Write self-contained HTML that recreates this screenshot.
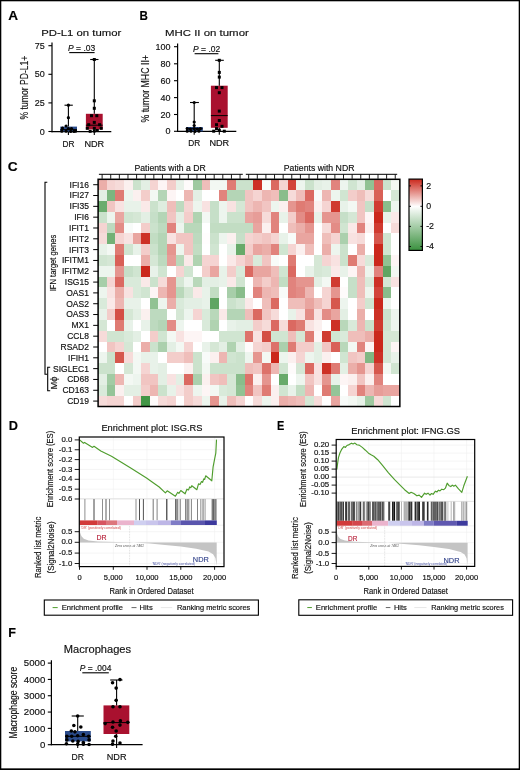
<!DOCTYPE html>
<html lang="en"><head><meta charset="utf-8"><title>Figure</title>
<style>html,body{margin:0;padding:0;background:#fff}svg{display:block}text{white-space:pre}</style></head>
<body>
<svg width="520" height="770" viewBox="0 0 520 770" font-family="'Liberation Sans', sans-serif" fill="#111">
<rect x="0" y="0" width="520" height="770" fill="#fff"/>
<text x="8.3" y="20.2" font-size="13" textLength="9.8" lengthAdjust="spacingAndGlyphs" font-weight="bold" fill="#000" stroke="#000" stroke-width="0.15">A</text>
<text x="139.6" y="19.7" font-size="13" textLength="8.4" lengthAdjust="spacingAndGlyphs" font-weight="bold" fill="#000" stroke="#000" stroke-width="0.15">B</text>
<text x="7.8" y="171.3" font-size="13" textLength="9.9" lengthAdjust="spacingAndGlyphs" font-weight="bold" fill="#000" stroke="#000" stroke-width="0.15">C</text>
<text x="8.8" y="430" font-size="13" textLength="9.2" lengthAdjust="spacingAndGlyphs" font-weight="bold" fill="#000" stroke="#000" stroke-width="0.15">D</text>
<text x="277" y="429.5" font-size="13" textLength="7.3" lengthAdjust="spacingAndGlyphs" font-weight="bold" fill="#000" stroke="#000" stroke-width="0.15">E</text>
<text x="8.3" y="636.7" font-size="13" textLength="7.7" lengthAdjust="spacingAndGlyphs" font-weight="bold" fill="#000" stroke="#000" stroke-width="0.15">F</text>
<text x="41.3" y="35.8" font-size="9.7" textLength="80" lengthAdjust="spacingAndGlyphs" stroke="#111" stroke-width="0.16">PD-L1 on tumor</text>
<text transform="translate(28.3,119.5) rotate(-90)" font-size="10.3" textLength="63.9" lengthAdjust="spacingAndGlyphs" stroke="#111" stroke-width="0.16">% tumor PD-L1+</text>
<line x1="52" y1="42.5" x2="52" y2="132.2" stroke="#000" stroke-width="1.2"/>
<line x1="51.4" y1="131.6" x2="111.3" y2="131.6" stroke="#000" stroke-width="1.2"/>
<line x1="48.4" y1="45.7" x2="52" y2="45.7" stroke="#000" stroke-width="1.1"/>
<text x="44.8" y="48.89" font-size="9" text-anchor="end" textLength="10.01" lengthAdjust="spacingAndGlyphs" stroke="#111" stroke-width="0.16">75</text>
<line x1="48.4" y1="74.3" x2="52" y2="74.3" stroke="#000" stroke-width="1.1"/>
<text x="44.8" y="77.49" font-size="9" text-anchor="end" textLength="10.01" lengthAdjust="spacingAndGlyphs" stroke="#111" stroke-width="0.16">50</text>
<line x1="48.4" y1="102.9" x2="52" y2="102.9" stroke="#000" stroke-width="1.1"/>
<text x="44.8" y="106.09" font-size="9" text-anchor="end" textLength="10.01" lengthAdjust="spacingAndGlyphs" stroke="#111" stroke-width="0.16">25</text>
<line x1="48.4" y1="131.5" x2="52" y2="131.5" stroke="#000" stroke-width="1.1"/>
<text x="44.8" y="134.69" font-size="9" text-anchor="end" textLength="5.01" lengthAdjust="spacingAndGlyphs" stroke="#111" stroke-width="0.16">0</text>
<line x1="68.4" y1="131.6" x2="68.4" y2="134.9" stroke="#000" stroke-width="1.1"/>
<rect x="60.3" y="126.6" width="16.7" height="5" fill="#2b4c8c"/>
<line x1="68.4" y1="105.2" x2="68.4" y2="126.6" stroke="#000" stroke-width="1.1"/>
<line x1="68.4" y1="131.6" x2="68.4" y2="131.6" stroke="#000" stroke-width="1.1"/>
<line x1="64.5" y1="105.2" x2="72.8" y2="105.2" stroke="#000" stroke-width="1.1"/>
<line x1="60.3" y1="129.6" x2="77" y2="129.6" stroke="#000" stroke-width="1"/>
<circle cx="68.4" cy="105.2" r="1.6" fill="#000"/>
<circle cx="68.4" cy="117.7" r="1.6" fill="#000"/>
<circle cx="66.1" cy="126" r="1.6" fill="#000"/>
<circle cx="62.5" cy="128.1" r="1.6" fill="#000"/>
<circle cx="68.4" cy="128.6" r="1.6" fill="#000"/>
<circle cx="71.5" cy="128.6" r="1.6" fill="#000"/>
<circle cx="61.8" cy="131.2" r="1.6" fill="#000"/>
<circle cx="66.1" cy="131.2" r="1.6" fill="#000"/>
<circle cx="70.7" cy="131.4" r="1.6" fill="#000"/>
<circle cx="73.9" cy="131.4" r="1.6" fill="#000"/>
<circle cx="75.6" cy="131.2" r="1.6" fill="#000"/>
<text x="68.4" y="146.6" font-size="9.2" text-anchor="middle" textLength="12" lengthAdjust="spacingAndGlyphs" stroke="#111" stroke-width="0.16">DR</text>
<line x1="94.3" y1="131.6" x2="94.3" y2="134.9" stroke="#000" stroke-width="1.1"/>
<rect x="85.9" y="113.8" width="16.8" height="15.6" fill="#a9112f"/>
<line x1="94.3" y1="59.5" x2="94.3" y2="113.8" stroke="#000" stroke-width="1.1"/>
<line x1="94.3" y1="129.4" x2="94.3" y2="131.6" stroke="#000" stroke-width="1.1"/>
<line x1="90.2" y1="59.5" x2="98.5" y2="59.5" stroke="#000" stroke-width="1.1"/>
<line x1="85.9" y1="125.2" x2="102.7" y2="125.2" stroke="#000" stroke-width="1"/>
<rect x="92.8" y="58" width="3" height="3" fill="#000"/>
<rect x="92.8" y="99.3" width="3" height="3" fill="#000"/>
<rect x="92.8" y="106.8" width="3" height="3" fill="#000"/>
<rect x="90" y="114.2" width="3" height="3" fill="#000"/>
<rect x="95.3" y="114.2" width="3" height="3" fill="#000"/>
<rect x="92.8" y="120.9" width="3" height="3" fill="#000"/>
<rect x="87.2" y="123.2" width="3" height="3" fill="#000"/>
<rect x="98.1" y="123.2" width="3" height="3" fill="#000"/>
<rect x="85.8" y="126.8" width="3" height="3" fill="#000"/>
<rect x="92.8" y="126.8" width="3" height="3" fill="#000"/>
<rect x="99.7" y="126.8" width="3" height="3" fill="#000"/>
<rect x="88.7" y="129.8" width="3" height="3" fill="#000"/>
<rect x="92.8" y="129.5" width="3" height="3" fill="#000"/>
<rect x="95.8" y="129" width="3" height="3" fill="#000"/>
<text x="94.3" y="146.6" font-size="9.2" text-anchor="middle" textLength="19.8" lengthAdjust="spacingAndGlyphs" stroke="#111" stroke-width="0.16">NDR</text>
<text x="68.1" y="50.7" font-size="8.5" stroke="#111" stroke-width="0.16" textLength="27.1" lengthAdjust="spacingAndGlyphs"><tspan font-style="italic">P</tspan> = .03</text>
<line x1="69.2" y1="52.6" x2="94.6" y2="52.6" stroke="#000" stroke-width="1.1"/>
<text x="165" y="36.2" font-size="9.7" textLength="83.8" lengthAdjust="spacingAndGlyphs" stroke="#111" stroke-width="0.16">MHC II on tumor</text>
<text transform="translate(148.7,122.6) rotate(-90)" font-size="10.3" textLength="67.6" lengthAdjust="spacingAndGlyphs" stroke="#111" stroke-width="0.16">% tumor MHC II+</text>
<line x1="177.6" y1="43.6" x2="177.6" y2="132" stroke="#000" stroke-width="1.2"/>
<line x1="177" y1="131.4" x2="236.3" y2="131.4" stroke="#000" stroke-width="1.2"/>
<line x1="174" y1="46.7" x2="177.6" y2="46.7" stroke="#000" stroke-width="1.1"/>
<text x="170.5" y="49.89" font-size="9" text-anchor="end" textLength="15.02" lengthAdjust="spacingAndGlyphs" stroke="#111" stroke-width="0.16">100</text>
<line x1="174" y1="63.8" x2="177.6" y2="63.8" stroke="#000" stroke-width="1.1"/>
<text x="170.5" y="66.99" font-size="9" text-anchor="end" textLength="10.01" lengthAdjust="spacingAndGlyphs" stroke="#111" stroke-width="0.16">80</text>
<line x1="174" y1="80.7" x2="177.6" y2="80.7" stroke="#000" stroke-width="1.1"/>
<text x="170.5" y="83.89" font-size="9" text-anchor="end" textLength="10.01" lengthAdjust="spacingAndGlyphs" stroke="#111" stroke-width="0.16">60</text>
<line x1="174" y1="97.6" x2="177.6" y2="97.6" stroke="#000" stroke-width="1.1"/>
<text x="170.5" y="100.79" font-size="9" text-anchor="end" textLength="10.01" lengthAdjust="spacingAndGlyphs" stroke="#111" stroke-width="0.16">40</text>
<line x1="174" y1="114.5" x2="177.6" y2="114.5" stroke="#000" stroke-width="1.1"/>
<text x="170.5" y="117.69" font-size="9" text-anchor="end" textLength="10.01" lengthAdjust="spacingAndGlyphs" stroke="#111" stroke-width="0.16">20</text>
<line x1="174" y1="131.3" x2="177.6" y2="131.3" stroke="#000" stroke-width="1.1"/>
<text x="170.5" y="134.49" font-size="9" text-anchor="end" textLength="5.01" lengthAdjust="spacingAndGlyphs" stroke="#111" stroke-width="0.16">0</text>
<line x1="194.2" y1="131.4" x2="194.2" y2="134.7" stroke="#000" stroke-width="1.1"/>
<rect x="186.1" y="127" width="16.7" height="4.4" fill="#2b4c8c"/>
<line x1="194.2" y1="102.5" x2="194.2" y2="127" stroke="#000" stroke-width="1.1"/>
<line x1="194.2" y1="131.4" x2="194.2" y2="131.4" stroke="#000" stroke-width="1.1"/>
<line x1="190" y1="102.5" x2="198.9" y2="102.5" stroke="#000" stroke-width="1.1"/>
<line x1="186.1" y1="128.8" x2="202.8" y2="128.8" stroke="#000" stroke-width="1"/>
<circle cx="194.2" cy="102.5" r="1.6" fill="#000"/>
<circle cx="194.2" cy="122" r="1.6" fill="#000"/>
<circle cx="194.2" cy="125.5" r="1.6" fill="#000"/>
<circle cx="187.2" cy="128.6" r="1.6" fill="#000"/>
<circle cx="190.3" cy="129" r="1.6" fill="#000"/>
<circle cx="194.2" cy="128.6" r="1.6" fill="#000"/>
<circle cx="197.3" cy="129" r="1.6" fill="#000"/>
<circle cx="200.4" cy="128.6" r="1.6" fill="#000"/>
<circle cx="187.2" cy="131.2" r="1.6" fill="#000"/>
<circle cx="191" cy="131.2" r="1.6" fill="#000"/>
<circle cx="195" cy="131.4" r="1.6" fill="#000"/>
<circle cx="198.9" cy="131.2" r="1.6" fill="#000"/>
<text x="194.2" y="146.4" font-size="9.2" text-anchor="middle" textLength="12" lengthAdjust="spacingAndGlyphs" stroke="#111" stroke-width="0.16">DR</text>
<line x1="219.3" y1="131.4" x2="219.3" y2="134.7" stroke="#000" stroke-width="1.1"/>
<rect x="210.9" y="85.7" width="16.8" height="42.1" fill="#a9112f"/>
<line x1="219.3" y1="60.3" x2="219.3" y2="85.7" stroke="#000" stroke-width="1.1"/>
<line x1="219.3" y1="127.8" x2="219.3" y2="131.4" stroke="#000" stroke-width="1.1"/>
<line x1="215.2" y1="60.3" x2="223.8" y2="60.3" stroke="#000" stroke-width="1.1"/>
<line x1="210.9" y1="115.6" x2="227.7" y2="115.6" stroke="#000" stroke-width="1"/>
<rect x="217.8" y="58.8" width="3" height="3" fill="#000"/>
<rect x="217.8" y="70.9" width="3" height="3" fill="#000"/>
<rect x="217.8" y="75.6" width="3" height="3" fill="#000"/>
<rect x="215" y="86.1" width="3" height="3" fill="#000"/>
<rect x="220.5" y="86.1" width="3" height="3" fill="#000"/>
<rect x="217.8" y="91.2" width="3" height="3" fill="#000"/>
<rect x="217.8" y="109.6" width="3" height="3" fill="#000"/>
<rect x="217.8" y="119" width="3" height="3" fill="#000"/>
<rect x="215" y="123.2" width="3" height="3" fill="#000"/>
<rect x="220.5" y="124.8" width="3" height="3" fill="#000"/>
<rect x="215" y="127.1" width="3" height="3" fill="#000"/>
<rect x="212.2" y="129.7" width="3" height="3" fill="#000"/>
<rect x="217.8" y="128.7" width="3" height="3" fill="#000"/>
<rect x="222.8" y="129.7" width="3" height="3" fill="#000"/>
<text x="219.3" y="146.4" font-size="9.2" text-anchor="middle" textLength="19.8" lengthAdjust="spacingAndGlyphs" stroke="#111" stroke-width="0.16">NDR</text>
<text x="193.1" y="51.7" font-size="8.5" stroke="#111" stroke-width="0.16" textLength="27.1" lengthAdjust="spacingAndGlyphs"><tspan font-style="italic">P</tspan> = .02</text>
<line x1="194.6" y1="53.7" x2="218.4" y2="53.7" stroke="#000" stroke-width="1.1"/>
<g shape-rendering="crispEdges">
<rect x="98.1" y="179.3" width="8.92" height="11.12" fill="#ebaea9"/>
<rect x="106.72" y="179.3" width="8.92" height="11.12" fill="#f5d4d2"/>
<rect x="115.34" y="179.3" width="8.92" height="11.12" fill="#f6dbd9"/>
<rect x="123.96" y="179.3" width="8.92" height="11.12" fill="#fbf0ef"/>
<rect x="132.59" y="179.3" width="8.92" height="11.12" fill="#cbe2cc"/>
<rect x="141.21" y="179.3" width="8.92" height="11.12" fill="#e3efe4"/>
<rect x="149.83" y="179.3" width="8.92" height="11.12" fill="#f5d4d2"/>
<rect x="158.45" y="179.3" width="8.92" height="11.12" fill="#fdf5f5"/>
<rect x="167.07" y="179.3" width="8.92" height="11.12" fill="#f3cdca"/>
<rect x="175.69" y="179.3" width="8.92" height="11.12" fill="#e8f2e9"/>
<rect x="184.31" y="179.3" width="8.92" height="11.12" fill="#fefbfb"/>
<rect x="192.94" y="179.3" width="8.92" height="11.12" fill="#9ec9a0"/>
<rect x="201.56" y="179.3" width="8.92" height="11.12" fill="#efbeba"/>
<rect x="210.18" y="179.3" width="8.92" height="11.12" fill="#f3f8f3"/>
<rect x="218.8" y="179.3" width="8.92" height="11.12" fill="#f3f8f3"/>
<rect x="227.42" y="179.3" width="8.92" height="11.12" fill="#df7b73"/>
<rect x="236.04" y="179.3" width="8.92" height="11.12" fill="#cbe2cc"/>
<rect x="244.66" y="179.3" width="8.92" height="11.12" fill="#cbe2cc"/>
<rect x="253.29" y="179.3" width="8.92" height="11.12" fill="#cd3126"/>
<rect x="261.91" y="179.3" width="8.92" height="11.12" fill="#f8fbf9"/>
<rect x="270.53" y="179.3" width="8.92" height="11.12" fill="#db6961"/>
<rect x="279.15" y="179.3" width="8.92" height="11.12" fill="#f5d4d2"/>
<rect x="287.77" y="179.3" width="8.92" height="11.12" fill="#d2443a"/>
<rect x="296.39" y="179.3" width="8.92" height="11.12" fill="#edf5ee"/>
<rect x="305.01" y="179.3" width="8.92" height="11.12" fill="#cbe2cc"/>
<rect x="313.64" y="179.3" width="8.92" height="11.12" fill="#e3efe4"/>
<rect x="322.26" y="179.3" width="8.92" height="11.12" fill="#e8f2e9"/>
<rect x="330.88" y="179.3" width="8.92" height="11.12" fill="#e1837d"/>
<rect x="339.5" y="179.3" width="8.92" height="11.12" fill="#edf5ee"/>
<rect x="348.12" y="179.3" width="8.92" height="11.12" fill="#d0e5d1"/>
<rect x="356.74" y="179.3" width="8.92" height="11.12" fill="#e3efe4"/>
<rect x="365.36" y="179.3" width="8.92" height="11.12" fill="#91c293"/>
<rect x="373.99" y="179.3" width="8.92" height="11.12" fill="#db6961"/>
<rect x="382.61" y="179.3" width="8.92" height="11.12" fill="#cbe2cc"/>
<rect x="391.23" y="179.3" width="8.92" height="11.12" fill="#f3f8f3"/>
<rect x="98.1" y="190.12" width="8.92" height="11.12" fill="#e3efe4"/>
<rect x="106.72" y="190.12" width="8.92" height="11.12" fill="#7cb67f"/>
<rect x="115.34" y="190.12" width="8.92" height="11.12" fill="#df7b73"/>
<rect x="123.96" y="190.12" width="8.92" height="11.12" fill="#edf5ee"/>
<rect x="132.59" y="190.12" width="8.92" height="11.12" fill="#fbf0ef"/>
<rect x="141.21" y="190.12" width="8.92" height="11.12" fill="#f3cdca"/>
<rect x="149.83" y="190.12" width="8.92" height="11.12" fill="#f3f8f3"/>
<rect x="158.45" y="190.12" width="8.92" height="11.12" fill="#b4d5b6"/>
<rect x="167.07" y="190.12" width="8.92" height="11.12" fill="#fdf5f5"/>
<rect x="175.69" y="190.12" width="8.92" height="11.12" fill="#ffffff"/>
<rect x="184.31" y="190.12" width="8.92" height="11.12" fill="#edb6b2"/>
<rect x="192.94" y="190.12" width="8.92" height="11.12" fill="#e3efe4"/>
<rect x="201.56" y="190.12" width="8.92" height="11.12" fill="#ffffff"/>
<rect x="210.18" y="190.12" width="8.92" height="11.12" fill="#ffffff"/>
<rect x="218.8" y="190.12" width="8.92" height="11.12" fill="#e1837d"/>
<rect x="227.42" y="190.12" width="8.92" height="11.12" fill="#b4d5b6"/>
<rect x="236.04" y="190.12" width="8.92" height="11.12" fill="#b4d5b6"/>
<rect x="244.66" y="190.12" width="8.92" height="11.12" fill="#f1c5c2"/>
<rect x="253.29" y="190.12" width="8.92" height="11.12" fill="#f5d4d2"/>
<rect x="261.91" y="190.12" width="8.92" height="11.12" fill="#edb6b2"/>
<rect x="270.53" y="190.12" width="8.92" height="11.12" fill="#efbeba"/>
<rect x="279.15" y="190.12" width="8.92" height="11.12" fill="#89bd8b"/>
<rect x="287.77" y="190.12" width="8.92" height="11.12" fill="#f6dbd9"/>
<rect x="296.39" y="190.12" width="8.92" height="11.12" fill="#efbeba"/>
<rect x="305.01" y="190.12" width="8.92" height="11.12" fill="#db6961"/>
<rect x="313.64" y="190.12" width="8.92" height="11.12" fill="#f8fbf9"/>
<rect x="322.26" y="190.12" width="8.92" height="11.12" fill="#edb6b2"/>
<rect x="330.88" y="190.12" width="8.92" height="11.12" fill="#edf5ee"/>
<rect x="339.5" y="190.12" width="8.92" height="11.12" fill="#d0e5d1"/>
<rect x="348.12" y="190.12" width="8.92" height="11.12" fill="#f3cdca"/>
<rect x="356.74" y="190.12" width="8.92" height="11.12" fill="#efbeba"/>
<rect x="365.36" y="190.12" width="8.92" height="11.12" fill="#f6dbd9"/>
<rect x="373.99" y="190.12" width="8.92" height="11.12" fill="#d96057"/>
<rect x="382.61" y="190.12" width="8.92" height="11.12" fill="#ffffff"/>
<rect x="391.23" y="190.12" width="8.92" height="11.12" fill="#d5e7d5"/>
<rect x="98.1" y="200.94" width="8.92" height="11.12" fill="#6bac6e"/>
<rect x="106.72" y="200.94" width="8.92" height="11.12" fill="#f1c5c2"/>
<rect x="115.34" y="200.94" width="8.92" height="11.12" fill="#f8e2e1"/>
<rect x="123.96" y="200.94" width="8.92" height="11.12" fill="#e8f2e9"/>
<rect x="132.59" y="200.94" width="8.92" height="11.12" fill="#e8f2e9"/>
<rect x="141.21" y="200.94" width="8.92" height="11.12" fill="#fae9e8"/>
<rect x="149.83" y="200.94" width="8.92" height="11.12" fill="#cbe2cc"/>
<rect x="158.45" y="200.94" width="8.92" height="11.12" fill="#deeddf"/>
<rect x="167.07" y="200.94" width="8.92" height="11.12" fill="#efbeba"/>
<rect x="175.69" y="200.94" width="8.92" height="11.12" fill="#bddabf"/>
<rect x="184.31" y="200.94" width="8.92" height="11.12" fill="#f5d4d2"/>
<rect x="192.94" y="200.94" width="8.92" height="11.12" fill="#edf5ee"/>
<rect x="201.56" y="200.94" width="8.92" height="11.12" fill="#f8e2e1"/>
<rect x="210.18" y="200.94" width="8.92" height="11.12" fill="#c6dfc8"/>
<rect x="218.8" y="200.94" width="8.92" height="11.12" fill="#edf5ee"/>
<rect x="227.42" y="200.94" width="8.92" height="11.12" fill="#f8e2e1"/>
<rect x="236.04" y="200.94" width="8.92" height="11.12" fill="#d5e7d5"/>
<rect x="244.66" y="200.94" width="8.92" height="11.12" fill="#f1c5c2"/>
<rect x="253.29" y="200.94" width="8.92" height="11.12" fill="#edb6b2"/>
<rect x="261.91" y="200.94" width="8.92" height="11.12" fill="#f1c5c2"/>
<rect x="270.53" y="200.94" width="8.92" height="11.12" fill="#edf5ee"/>
<rect x="279.15" y="200.94" width="8.92" height="11.12" fill="#fbf0ef"/>
<rect x="287.77" y="200.94" width="8.92" height="11.12" fill="#e5958f"/>
<rect x="296.39" y="200.94" width="8.92" height="11.12" fill="#df7b73"/>
<rect x="305.01" y="200.94" width="8.92" height="11.12" fill="#e1837d"/>
<rect x="313.64" y="200.94" width="8.92" height="11.12" fill="#fbf0ef"/>
<rect x="322.26" y="200.94" width="8.92" height="11.12" fill="#f5d4d2"/>
<rect x="330.88" y="200.94" width="8.92" height="11.12" fill="#d03b30"/>
<rect x="339.5" y="200.94" width="8.92" height="11.12" fill="#e8f2e9"/>
<rect x="348.12" y="200.94" width="8.92" height="11.12" fill="#f3f8f3"/>
<rect x="356.74" y="200.94" width="8.92" height="11.12" fill="#f1c5c2"/>
<rect x="365.36" y="200.94" width="8.92" height="11.12" fill="#c6dfc8"/>
<rect x="373.99" y="200.94" width="8.92" height="11.12" fill="#d03b30"/>
<rect x="382.61" y="200.94" width="8.92" height="11.12" fill="#89bd8b"/>
<rect x="391.23" y="200.94" width="8.92" height="11.12" fill="#edf5ee"/>
<rect x="98.1" y="211.76" width="8.92" height="11.12" fill="#cbe2cc"/>
<rect x="106.72" y="211.76" width="8.92" height="11.12" fill="#edf5ee"/>
<rect x="115.34" y="211.76" width="8.92" height="11.12" fill="#e9a5a0"/>
<rect x="123.96" y="211.76" width="8.92" height="11.12" fill="#d0e5d1"/>
<rect x="132.59" y="211.76" width="8.92" height="11.12" fill="#d5e7d5"/>
<rect x="141.21" y="211.76" width="8.92" height="11.12" fill="#e3efe4"/>
<rect x="149.83" y="211.76" width="8.92" height="11.12" fill="#c6dfc8"/>
<rect x="158.45" y="211.76" width="8.92" height="11.12" fill="#b4d5b6"/>
<rect x="167.07" y="211.76" width="8.92" height="11.12" fill="#f1c5c2"/>
<rect x="175.69" y="211.76" width="8.92" height="11.12" fill="#e3efe4"/>
<rect x="184.31" y="211.76" width="8.92" height="11.12" fill="#f3cdca"/>
<rect x="192.94" y="211.76" width="8.92" height="11.12" fill="#b0d3b1"/>
<rect x="201.56" y="211.76" width="8.92" height="11.12" fill="#f3f8f3"/>
<rect x="210.18" y="211.76" width="8.92" height="11.12" fill="#c6dfc8"/>
<rect x="218.8" y="211.76" width="8.92" height="11.12" fill="#edf5ee"/>
<rect x="227.42" y="211.76" width="8.92" height="11.12" fill="#cbe2cc"/>
<rect x="236.04" y="211.76" width="8.92" height="11.12" fill="#cbe2cc"/>
<rect x="244.66" y="211.76" width="8.92" height="11.12" fill="#e9a5a0"/>
<rect x="253.29" y="211.76" width="8.92" height="11.12" fill="#e79d98"/>
<rect x="261.91" y="211.76" width="8.92" height="11.12" fill="#f6dbd9"/>
<rect x="270.53" y="211.76" width="8.92" height="11.12" fill="#e1837d"/>
<rect x="279.15" y="211.76" width="8.92" height="11.12" fill="#e8f2e9"/>
<rect x="287.77" y="211.76" width="8.92" height="11.12" fill="#f3cdca"/>
<rect x="296.39" y="211.76" width="8.92" height="11.12" fill="#e38c86"/>
<rect x="305.01" y="211.76" width="8.92" height="11.12" fill="#db6961"/>
<rect x="313.64" y="211.76" width="8.92" height="11.12" fill="#e8f2e9"/>
<rect x="322.26" y="211.76" width="8.92" height="11.12" fill="#e5958f"/>
<rect x="330.88" y="211.76" width="8.92" height="11.12" fill="#e5958f"/>
<rect x="339.5" y="211.76" width="8.92" height="11.12" fill="#c6dfc8"/>
<rect x="348.12" y="211.76" width="8.92" height="11.12" fill="#d5e7d5"/>
<rect x="356.74" y="211.76" width="8.92" height="11.12" fill="#f1c5c2"/>
<rect x="365.36" y="211.76" width="8.92" height="11.12" fill="#fdf5f5"/>
<rect x="373.99" y="211.76" width="8.92" height="11.12" fill="#cb281c"/>
<rect x="382.61" y="211.76" width="8.92" height="11.12" fill="#e8f2e9"/>
<rect x="391.23" y="211.76" width="8.92" height="11.12" fill="#fae9e8"/>
<rect x="98.1" y="222.58" width="8.92" height="11.12" fill="#f5d4d2"/>
<rect x="106.72" y="222.58" width="8.92" height="11.12" fill="#bddabf"/>
<rect x="115.34" y="222.58" width="8.92" height="11.12" fill="#e38c86"/>
<rect x="123.96" y="222.58" width="8.92" height="11.12" fill="#f8fbf9"/>
<rect x="132.59" y="222.58" width="8.92" height="11.12" fill="#ffffff"/>
<rect x="141.21" y="222.58" width="8.92" height="11.12" fill="#f3cdca"/>
<rect x="149.83" y="222.58" width="8.92" height="11.12" fill="#cbe2cc"/>
<rect x="158.45" y="222.58" width="8.92" height="11.12" fill="#bddabf"/>
<rect x="167.07" y="222.58" width="8.92" height="11.12" fill="#e1837d"/>
<rect x="175.69" y="222.58" width="8.92" height="11.12" fill="#edf5ee"/>
<rect x="184.31" y="222.58" width="8.92" height="11.12" fill="#b9d8ba"/>
<rect x="192.94" y="222.58" width="8.92" height="11.12" fill="#b9d8ba"/>
<rect x="201.56" y="222.58" width="8.92" height="11.12" fill="#ffffff"/>
<rect x="210.18" y="222.58" width="8.92" height="11.12" fill="#c2ddc3"/>
<rect x="218.8" y="222.58" width="8.92" height="11.12" fill="#c2ddc3"/>
<rect x="227.42" y="222.58" width="8.92" height="11.12" fill="#c2ddc3"/>
<rect x="236.04" y="222.58" width="8.92" height="11.12" fill="#c2ddc3"/>
<rect x="244.66" y="222.58" width="8.92" height="11.12" fill="#c2ddc3"/>
<rect x="253.29" y="222.58" width="8.92" height="11.12" fill="#e9a5a0"/>
<rect x="261.91" y="222.58" width="8.92" height="11.12" fill="#fbf0ef"/>
<rect x="270.53" y="222.58" width="8.92" height="11.12" fill="#e1837d"/>
<rect x="279.15" y="222.58" width="8.92" height="11.12" fill="#ffffff"/>
<rect x="287.77" y="222.58" width="8.92" height="11.12" fill="#efbeba"/>
<rect x="296.39" y="222.58" width="8.92" height="11.12" fill="#ebaea9"/>
<rect x="305.01" y="222.58" width="8.92" height="11.12" fill="#e5958f"/>
<rect x="313.64" y="222.58" width="8.92" height="11.12" fill="#ffffff"/>
<rect x="322.26" y="222.58" width="8.92" height="11.12" fill="#f6dbd9"/>
<rect x="330.88" y="222.58" width="8.92" height="11.12" fill="#e38c86"/>
<rect x="339.5" y="222.58" width="8.92" height="11.12" fill="#d0e5d1"/>
<rect x="348.12" y="222.58" width="8.92" height="11.12" fill="#fae9e8"/>
<rect x="356.74" y="222.58" width="8.92" height="11.12" fill="#e1837d"/>
<rect x="365.36" y="222.58" width="8.92" height="11.12" fill="#fbf0ef"/>
<rect x="373.99" y="222.58" width="8.92" height="11.12" fill="#d03b30"/>
<rect x="382.61" y="222.58" width="8.92" height="11.12" fill="#ffffff"/>
<rect x="391.23" y="222.58" width="8.92" height="11.12" fill="#f6dbd9"/>
<rect x="98.1" y="233.4" width="8.92" height="11.12" fill="#f6dbd9"/>
<rect x="106.72" y="233.4" width="8.92" height="11.12" fill="#73b176"/>
<rect x="115.34" y="233.4" width="8.92" height="11.12" fill="#f5d4d2"/>
<rect x="123.96" y="233.4" width="8.92" height="11.12" fill="#f8e2e1"/>
<rect x="132.59" y="233.4" width="8.92" height="11.12" fill="#e9a5a0"/>
<rect x="141.21" y="233.4" width="8.92" height="11.12" fill="#cd3126"/>
<rect x="149.83" y="233.4" width="8.92" height="11.12" fill="#c2ddc3"/>
<rect x="158.45" y="233.4" width="8.92" height="11.12" fill="#b4d5b6"/>
<rect x="167.07" y="233.4" width="8.92" height="11.12" fill="#f8e2e1"/>
<rect x="175.69" y="233.4" width="8.92" height="11.12" fill="#f1c5c2"/>
<rect x="184.31" y="233.4" width="8.92" height="11.12" fill="#f1c5c2"/>
<rect x="192.94" y="233.4" width="8.92" height="11.12" fill="#bddabf"/>
<rect x="201.56" y="233.4" width="8.92" height="11.12" fill="#fffdfd"/>
<rect x="210.18" y="233.4" width="8.92" height="11.12" fill="#cbe2cc"/>
<rect x="218.8" y="233.4" width="8.92" height="11.12" fill="#edf5ee"/>
<rect x="227.42" y="233.4" width="8.92" height="11.12" fill="#fbf0ef"/>
<rect x="236.04" y="233.4" width="8.92" height="11.12" fill="#c6dfc8"/>
<rect x="244.66" y="233.4" width="8.92" height="11.12" fill="#f5d4d2"/>
<rect x="253.29" y="233.4" width="8.92" height="11.12" fill="#f3cdca"/>
<rect x="261.91" y="233.4" width="8.92" height="11.12" fill="#f1c5c2"/>
<rect x="270.53" y="233.4" width="8.92" height="11.12" fill="#f5d4d2"/>
<rect x="279.15" y="233.4" width="8.92" height="11.12" fill="#e8f2e9"/>
<rect x="287.77" y="233.4" width="8.92" height="11.12" fill="#f8fbf9"/>
<rect x="296.39" y="233.4" width="8.92" height="11.12" fill="#e9a5a0"/>
<rect x="305.01" y="233.4" width="8.92" height="11.12" fill="#e9a5a0"/>
<rect x="313.64" y="233.4" width="8.92" height="11.12" fill="#ffffff"/>
<rect x="322.26" y="233.4" width="8.92" height="11.12" fill="#efbeba"/>
<rect x="330.88" y="233.4" width="8.92" height="11.12" fill="#f5d4d2"/>
<rect x="339.5" y="233.4" width="8.92" height="11.12" fill="#abd0ad"/>
<rect x="348.12" y="233.4" width="8.92" height="11.12" fill="#f8e2e1"/>
<rect x="356.74" y="233.4" width="8.92" height="11.12" fill="#f6dbd9"/>
<rect x="365.36" y="233.4" width="8.92" height="11.12" fill="#ffffff"/>
<rect x="373.99" y="233.4" width="8.92" height="11.12" fill="#d6574d"/>
<rect x="382.61" y="233.4" width="8.92" height="11.12" fill="#d0e5d1"/>
<rect x="391.23" y="233.4" width="8.92" height="11.12" fill="#ffffff"/>
<rect x="98.1" y="244.21" width="8.92" height="11.12" fill="#e8f2e9"/>
<rect x="106.72" y="244.21" width="8.92" height="11.12" fill="#f3f8f3"/>
<rect x="115.34" y="244.21" width="8.92" height="11.12" fill="#df7b73"/>
<rect x="123.96" y="244.21" width="8.92" height="11.12" fill="#d0e5d1"/>
<rect x="132.59" y="244.21" width="8.92" height="11.12" fill="#e8f2e9"/>
<rect x="141.21" y="244.21" width="8.92" height="11.12" fill="#f3cdca"/>
<rect x="149.83" y="244.21" width="8.92" height="11.12" fill="#cbe2cc"/>
<rect x="158.45" y="244.21" width="8.92" height="11.12" fill="#b4d5b6"/>
<rect x="167.07" y="244.21" width="8.92" height="11.12" fill="#e5958f"/>
<rect x="175.69" y="244.21" width="8.92" height="11.12" fill="#edf5ee"/>
<rect x="184.31" y="244.21" width="8.92" height="11.12" fill="#f1c5c2"/>
<rect x="192.94" y="244.21" width="8.92" height="11.12" fill="#c2ddc3"/>
<rect x="201.56" y="244.21" width="8.92" height="11.12" fill="#ffffff"/>
<rect x="210.18" y="244.21" width="8.92" height="11.12" fill="#d0e5d1"/>
<rect x="218.8" y="244.21" width="8.92" height="11.12" fill="#ffffff"/>
<rect x="227.42" y="244.21" width="8.92" height="11.12" fill="#e8f2e9"/>
<rect x="236.04" y="244.21" width="8.92" height="11.12" fill="#67aa6a"/>
<rect x="244.66" y="244.21" width="8.92" height="11.12" fill="#f3cdca"/>
<rect x="253.29" y="244.21" width="8.92" height="11.12" fill="#e9a5a0"/>
<rect x="261.91" y="244.21" width="8.92" height="11.12" fill="#ebaea9"/>
<rect x="270.53" y="244.21" width="8.92" height="11.12" fill="#e1837d"/>
<rect x="279.15" y="244.21" width="8.92" height="11.12" fill="#d0e5d1"/>
<rect x="287.77" y="244.21" width="8.92" height="11.12" fill="#f5d4d2"/>
<rect x="296.39" y="244.21" width="8.92" height="11.12" fill="#fbf0ef"/>
<rect x="305.01" y="244.21" width="8.92" height="11.12" fill="#efbeba"/>
<rect x="313.64" y="244.21" width="8.92" height="11.12" fill="#ffffff"/>
<rect x="322.26" y="244.21" width="8.92" height="11.12" fill="#ebaea9"/>
<rect x="330.88" y="244.21" width="8.92" height="11.12" fill="#edf5ee"/>
<rect x="339.5" y="244.21" width="8.92" height="11.12" fill="#cbe2cc"/>
<rect x="348.12" y="244.21" width="8.92" height="11.12" fill="#ffffff"/>
<rect x="356.74" y="244.21" width="8.92" height="11.12" fill="#ebaea9"/>
<rect x="365.36" y="244.21" width="8.92" height="11.12" fill="#ffffff"/>
<rect x="373.99" y="244.21" width="8.92" height="11.12" fill="#cb281c"/>
<rect x="382.61" y="244.21" width="8.92" height="11.12" fill="#d0e5d1"/>
<rect x="391.23" y="244.21" width="8.92" height="11.12" fill="#ffffff"/>
<rect x="98.1" y="255.03" width="8.92" height="11.12" fill="#d0e5d1"/>
<rect x="106.72" y="255.03" width="8.92" height="11.12" fill="#d5e7d5"/>
<rect x="115.34" y="255.03" width="8.92" height="11.12" fill="#d96057"/>
<rect x="123.96" y="255.03" width="8.92" height="11.12" fill="#ffffff"/>
<rect x="132.59" y="255.03" width="8.92" height="11.12" fill="#ffffff"/>
<rect x="141.21" y="255.03" width="8.92" height="11.12" fill="#ebaea9"/>
<rect x="149.83" y="255.03" width="8.92" height="11.12" fill="#d5e7d5"/>
<rect x="158.45" y="255.03" width="8.92" height="11.12" fill="#bddabf"/>
<rect x="167.07" y="255.03" width="8.92" height="11.12" fill="#e79d98"/>
<rect x="175.69" y="255.03" width="8.92" height="11.12" fill="#b9d8ba"/>
<rect x="184.31" y="255.03" width="8.92" height="11.12" fill="#fae9e8"/>
<rect x="192.94" y="255.03" width="8.92" height="11.12" fill="#b0d3b1"/>
<rect x="201.56" y="255.03" width="8.92" height="11.12" fill="#f5d4d2"/>
<rect x="210.18" y="255.03" width="8.92" height="11.12" fill="#f5d4d2"/>
<rect x="218.8" y="255.03" width="8.92" height="11.12" fill="#ffffff"/>
<rect x="227.42" y="255.03" width="8.92" height="11.12" fill="#fae9e8"/>
<rect x="236.04" y="255.03" width="8.92" height="11.12" fill="#f5d4d2"/>
<rect x="244.66" y="255.03" width="8.92" height="11.12" fill="#efbeba"/>
<rect x="253.29" y="255.03" width="8.92" height="11.12" fill="#d9eada"/>
<rect x="261.91" y="255.03" width="8.92" height="11.12" fill="#f1c5c2"/>
<rect x="270.53" y="255.03" width="8.92" height="11.12" fill="#f8fbf9"/>
<rect x="279.15" y="255.03" width="8.92" height="11.12" fill="#ffffff"/>
<rect x="287.77" y="255.03" width="8.92" height="11.12" fill="#df7b73"/>
<rect x="296.39" y="255.03" width="8.92" height="11.12" fill="#ffffff"/>
<rect x="305.01" y="255.03" width="8.92" height="11.12" fill="#ffffff"/>
<rect x="313.64" y="255.03" width="8.92" height="11.12" fill="#d5e7d5"/>
<rect x="322.26" y="255.03" width="8.92" height="11.12" fill="#f5d4d2"/>
<rect x="330.88" y="255.03" width="8.92" height="11.12" fill="#f8e2e1"/>
<rect x="339.5" y="255.03" width="8.92" height="11.12" fill="#cbe2cc"/>
<rect x="348.12" y="255.03" width="8.92" height="11.12" fill="#df7b73"/>
<rect x="356.74" y="255.03" width="8.92" height="11.12" fill="#f6dbd9"/>
<rect x="365.36" y="255.03" width="8.92" height="11.12" fill="#d9eada"/>
<rect x="373.99" y="255.03" width="8.92" height="11.12" fill="#cb281c"/>
<rect x="382.61" y="255.03" width="8.92" height="11.12" fill="#91c293"/>
<rect x="391.23" y="255.03" width="8.92" height="11.12" fill="#fdf5f5"/>
<rect x="98.1" y="265.85" width="8.92" height="11.12" fill="#edf5ee"/>
<rect x="106.72" y="265.85" width="8.92" height="11.12" fill="#edf5ee"/>
<rect x="115.34" y="265.85" width="8.92" height="11.12" fill="#e5958f"/>
<rect x="123.96" y="265.85" width="8.92" height="11.12" fill="#c6dfc8"/>
<rect x="132.59" y="265.85" width="8.92" height="11.12" fill="#d0e5d1"/>
<rect x="141.21" y="265.85" width="8.92" height="11.12" fill="#cb281c"/>
<rect x="149.83" y="265.85" width="8.92" height="11.12" fill="#e8f2e9"/>
<rect x="158.45" y="265.85" width="8.92" height="11.12" fill="#d0e5d1"/>
<rect x="167.07" y="265.85" width="8.92" height="11.12" fill="#ffffff"/>
<rect x="175.69" y="265.85" width="8.92" height="11.12" fill="#f5d4d2"/>
<rect x="184.31" y="265.85" width="8.92" height="11.12" fill="#d0e5d1"/>
<rect x="192.94" y="265.85" width="8.92" height="11.12" fill="#ffffff"/>
<rect x="201.56" y="265.85" width="8.92" height="11.12" fill="#f3cdca"/>
<rect x="210.18" y="265.85" width="8.92" height="11.12" fill="#e9a5a0"/>
<rect x="218.8" y="265.85" width="8.92" height="11.12" fill="#e8f2e9"/>
<rect x="227.42" y="265.85" width="8.92" height="11.12" fill="#f3cdca"/>
<rect x="236.04" y="265.85" width="8.92" height="11.12" fill="#d9eada"/>
<rect x="244.66" y="265.85" width="8.92" height="11.12" fill="#db6961"/>
<rect x="253.29" y="265.85" width="8.92" height="11.12" fill="#e9a5a0"/>
<rect x="261.91" y="265.85" width="8.92" height="11.12" fill="#e9a5a0"/>
<rect x="270.53" y="265.85" width="8.92" height="11.12" fill="#efbeba"/>
<rect x="279.15" y="265.85" width="8.92" height="11.12" fill="#d0e5d1"/>
<rect x="287.77" y="265.85" width="8.92" height="11.12" fill="#db6961"/>
<rect x="296.39" y="265.85" width="8.92" height="11.12" fill="#ffffff"/>
<rect x="305.01" y="265.85" width="8.92" height="11.12" fill="#e8f2e9"/>
<rect x="313.64" y="265.85" width="8.92" height="11.12" fill="#d5e7d5"/>
<rect x="322.26" y="265.85" width="8.92" height="11.12" fill="#d9eada"/>
<rect x="330.88" y="265.85" width="8.92" height="11.12" fill="#fae9e8"/>
<rect x="339.5" y="265.85" width="8.92" height="11.12" fill="#e8f2e9"/>
<rect x="348.12" y="265.85" width="8.92" height="11.12" fill="#fdf5f5"/>
<rect x="356.74" y="265.85" width="8.92" height="11.12" fill="#edb6b2"/>
<rect x="365.36" y="265.85" width="8.92" height="11.12" fill="#edf5ee"/>
<rect x="373.99" y="265.85" width="8.92" height="11.12" fill="#e1837d"/>
<rect x="382.61" y="265.85" width="8.92" height="11.12" fill="#5fa562"/>
<rect x="391.23" y="265.85" width="8.92" height="11.12" fill="#f3f8f3"/>
<rect x="98.1" y="276.67" width="8.92" height="11.12" fill="#a7cea9"/>
<rect x="106.72" y="276.67" width="8.92" height="11.12" fill="#f5d4d2"/>
<rect x="115.34" y="276.67" width="8.92" height="11.12" fill="#db6961"/>
<rect x="123.96" y="276.67" width="8.92" height="11.12" fill="#d9eada"/>
<rect x="132.59" y="276.67" width="8.92" height="11.12" fill="#d9eada"/>
<rect x="141.21" y="276.67" width="8.92" height="11.12" fill="#fae9e8"/>
<rect x="149.83" y="276.67" width="8.92" height="11.12" fill="#cbe2cc"/>
<rect x="158.45" y="276.67" width="8.92" height="11.12" fill="#f6dbd9"/>
<rect x="167.07" y="276.67" width="8.92" height="11.12" fill="#e5958f"/>
<rect x="175.69" y="276.67" width="8.92" height="11.12" fill="#d5e7d5"/>
<rect x="184.31" y="276.67" width="8.92" height="11.12" fill="#edf5ee"/>
<rect x="192.94" y="276.67" width="8.92" height="11.12" fill="#b9d8ba"/>
<rect x="201.56" y="276.67" width="8.92" height="11.12" fill="#e3efe4"/>
<rect x="210.18" y="276.67" width="8.92" height="11.12" fill="#e3efe4"/>
<rect x="218.8" y="276.67" width="8.92" height="11.12" fill="#e8f2e9"/>
<rect x="227.42" y="276.67" width="8.92" height="11.12" fill="#fae9e8"/>
<rect x="236.04" y="276.67" width="8.92" height="11.12" fill="#d0e5d1"/>
<rect x="244.66" y="276.67" width="8.92" height="11.12" fill="#ffffff"/>
<rect x="253.29" y="276.67" width="8.92" height="11.12" fill="#edb6b2"/>
<rect x="261.91" y="276.67" width="8.92" height="11.12" fill="#f3cdca"/>
<rect x="270.53" y="276.67" width="8.92" height="11.12" fill="#edb6b2"/>
<rect x="279.15" y="276.67" width="8.92" height="11.12" fill="#c2ddc3"/>
<rect x="287.77" y="276.67" width="8.92" height="11.12" fill="#e1837d"/>
<rect x="296.39" y="276.67" width="8.92" height="11.12" fill="#e5958f"/>
<rect x="305.01" y="276.67" width="8.92" height="11.12" fill="#e5958f"/>
<rect x="313.64" y="276.67" width="8.92" height="11.12" fill="#e3efe4"/>
<rect x="322.26" y="276.67" width="8.92" height="11.12" fill="#f3f8f3"/>
<rect x="330.88" y="276.67" width="8.92" height="11.12" fill="#d03b30"/>
<rect x="339.5" y="276.67" width="8.92" height="11.12" fill="#ffffff"/>
<rect x="348.12" y="276.67" width="8.92" height="11.12" fill="#c6dfc8"/>
<rect x="356.74" y="276.67" width="8.92" height="11.12" fill="#efbeba"/>
<rect x="365.36" y="276.67" width="8.92" height="11.12" fill="#d9eada"/>
<rect x="373.99" y="276.67" width="8.92" height="11.12" fill="#cd3126"/>
<rect x="382.61" y="276.67" width="8.92" height="11.12" fill="#d5e7d5"/>
<rect x="391.23" y="276.67" width="8.92" height="11.12" fill="#f8e2e1"/>
<rect x="98.1" y="287.49" width="8.92" height="11.12" fill="#edf5ee"/>
<rect x="106.72" y="287.49" width="8.92" height="11.12" fill="#f8e2e1"/>
<rect x="115.34" y="287.49" width="8.92" height="11.12" fill="#ebaea9"/>
<rect x="123.96" y="287.49" width="8.92" height="11.12" fill="#f8e2e1"/>
<rect x="132.59" y="287.49" width="8.92" height="11.12" fill="#d9eada"/>
<rect x="141.21" y="287.49" width="8.92" height="11.12" fill="#d0e5d1"/>
<rect x="149.83" y="287.49" width="8.92" height="11.12" fill="#fdf5f5"/>
<rect x="158.45" y="287.49" width="8.92" height="11.12" fill="#edb6b2"/>
<rect x="167.07" y="287.49" width="8.92" height="11.12" fill="#e5958f"/>
<rect x="175.69" y="287.49" width="8.92" height="11.12" fill="#b9d8ba"/>
<rect x="184.31" y="287.49" width="8.92" height="11.12" fill="#d5e7d5"/>
<rect x="192.94" y="287.49" width="8.92" height="11.12" fill="#fae9e8"/>
<rect x="201.56" y="287.49" width="8.92" height="11.12" fill="#e8f2e9"/>
<rect x="210.18" y="287.49" width="8.92" height="11.12" fill="#c2ddc3"/>
<rect x="218.8" y="287.49" width="8.92" height="11.12" fill="#ffffff"/>
<rect x="227.42" y="287.49" width="8.92" height="11.12" fill="#a7cea9"/>
<rect x="236.04" y="287.49" width="8.92" height="11.12" fill="#89bd8b"/>
<rect x="244.66" y="287.49" width="8.92" height="11.12" fill="#ffffff"/>
<rect x="253.29" y="287.49" width="8.92" height="11.12" fill="#e1837d"/>
<rect x="261.91" y="287.49" width="8.92" height="11.12" fill="#edb6b2"/>
<rect x="270.53" y="287.49" width="8.92" height="11.12" fill="#efbeba"/>
<rect x="279.15" y="287.49" width="8.92" height="11.12" fill="#f8fbf9"/>
<rect x="287.77" y="287.49" width="8.92" height="11.12" fill="#e1837d"/>
<rect x="296.39" y="287.49" width="8.92" height="11.12" fill="#e38c86"/>
<rect x="305.01" y="287.49" width="8.92" height="11.12" fill="#edb6b2"/>
<rect x="313.64" y="287.49" width="8.92" height="11.12" fill="#ffffff"/>
<rect x="322.26" y="287.49" width="8.92" height="11.12" fill="#f5d4d2"/>
<rect x="330.88" y="287.49" width="8.92" height="11.12" fill="#e5958f"/>
<rect x="339.5" y="287.49" width="8.92" height="11.12" fill="#fefbfb"/>
<rect x="348.12" y="287.49" width="8.92" height="11.12" fill="#c6dfc8"/>
<rect x="356.74" y="287.49" width="8.92" height="11.12" fill="#efbeba"/>
<rect x="365.36" y="287.49" width="8.92" height="11.12" fill="#edf5ee"/>
<rect x="373.99" y="287.49" width="8.92" height="11.12" fill="#d2443a"/>
<rect x="382.61" y="287.49" width="8.92" height="11.12" fill="#89bd8b"/>
<rect x="391.23" y="287.49" width="8.92" height="11.12" fill="#ffffff"/>
<rect x="98.1" y="298.31" width="8.92" height="11.12" fill="#d9eada"/>
<rect x="106.72" y="298.31" width="8.92" height="11.12" fill="#fae9e8"/>
<rect x="115.34" y="298.31" width="8.92" height="11.12" fill="#edb6b2"/>
<rect x="123.96" y="298.31" width="8.92" height="11.12" fill="#e8f2e9"/>
<rect x="132.59" y="298.31" width="8.92" height="11.12" fill="#e8f2e9"/>
<rect x="141.21" y="298.31" width="8.92" height="11.12" fill="#ffffff"/>
<rect x="149.83" y="298.31" width="8.92" height="11.12" fill="#91c293"/>
<rect x="158.45" y="298.31" width="8.92" height="11.12" fill="#edf5ee"/>
<rect x="167.07" y="298.31" width="8.92" height="11.12" fill="#ebaea9"/>
<rect x="175.69" y="298.31" width="8.92" height="11.12" fill="#d9eada"/>
<rect x="184.31" y="298.31" width="8.92" height="11.12" fill="#e3efe4"/>
<rect x="192.94" y="298.31" width="8.92" height="11.12" fill="#e3efe4"/>
<rect x="201.56" y="298.31" width="8.92" height="11.12" fill="#e8f2e9"/>
<rect x="210.18" y="298.31" width="8.92" height="11.12" fill="#5fa562"/>
<rect x="218.8" y="298.31" width="8.92" height="11.12" fill="#ffffff"/>
<rect x="227.42" y="298.31" width="8.92" height="11.12" fill="#cbe2cc"/>
<rect x="236.04" y="298.31" width="8.92" height="11.12" fill="#d5e7d5"/>
<rect x="244.66" y="298.31" width="8.92" height="11.12" fill="#fae9e8"/>
<rect x="253.29" y="298.31" width="8.92" height="11.12" fill="#ffffff"/>
<rect x="261.91" y="298.31" width="8.92" height="11.12" fill="#efbeba"/>
<rect x="270.53" y="298.31" width="8.92" height="11.12" fill="#db6961"/>
<rect x="279.15" y="298.31" width="8.92" height="11.12" fill="#ffffff"/>
<rect x="287.77" y="298.31" width="8.92" height="11.12" fill="#efbeba"/>
<rect x="296.39" y="298.31" width="8.92" height="11.12" fill="#efbeba"/>
<rect x="305.01" y="298.31" width="8.92" height="11.12" fill="#e9a5a0"/>
<rect x="313.64" y="298.31" width="8.92" height="11.12" fill="#efbeba"/>
<rect x="322.26" y="298.31" width="8.92" height="11.12" fill="#f5d4d2"/>
<rect x="330.88" y="298.31" width="8.92" height="11.12" fill="#d6574d"/>
<rect x="339.5" y="298.31" width="8.92" height="11.12" fill="#edf5ee"/>
<rect x="348.12" y="298.31" width="8.92" height="11.12" fill="#ffffff"/>
<rect x="356.74" y="298.31" width="8.92" height="11.12" fill="#f3cdca"/>
<rect x="365.36" y="298.31" width="8.92" height="11.12" fill="#d0e5d1"/>
<rect x="373.99" y="298.31" width="8.92" height="11.12" fill="#cb281c"/>
<rect x="382.61" y="298.31" width="8.92" height="11.12" fill="#edf5ee"/>
<rect x="391.23" y="298.31" width="8.92" height="11.12" fill="#ffffff"/>
<rect x="98.1" y="309.13" width="8.92" height="11.12" fill="#e8f2e9"/>
<rect x="106.72" y="309.13" width="8.92" height="11.12" fill="#f3cdca"/>
<rect x="115.34" y="309.13" width="8.92" height="11.12" fill="#d44e44"/>
<rect x="123.96" y="309.13" width="8.92" height="11.12" fill="#d5e7d5"/>
<rect x="132.59" y="309.13" width="8.92" height="11.12" fill="#e3efe4"/>
<rect x="141.21" y="309.13" width="8.92" height="11.12" fill="#fbf0ef"/>
<rect x="149.83" y="309.13" width="8.92" height="11.12" fill="#bddabf"/>
<rect x="158.45" y="309.13" width="8.92" height="11.12" fill="#bddabf"/>
<rect x="167.07" y="309.13" width="8.92" height="11.12" fill="#ffffff"/>
<rect x="175.69" y="309.13" width="8.92" height="11.12" fill="#d5e7d5"/>
<rect x="184.31" y="309.13" width="8.92" height="11.12" fill="#edf5ee"/>
<rect x="192.94" y="309.13" width="8.92" height="11.12" fill="#f5d4d2"/>
<rect x="201.56" y="309.13" width="8.92" height="11.12" fill="#d9eada"/>
<rect x="210.18" y="309.13" width="8.92" height="11.12" fill="#b9d8ba"/>
<rect x="218.8" y="309.13" width="8.92" height="11.12" fill="#fae9e8"/>
<rect x="227.42" y="309.13" width="8.92" height="11.12" fill="#b4d5b6"/>
<rect x="236.04" y="309.13" width="8.92" height="11.12" fill="#b4d5b6"/>
<rect x="244.66" y="309.13" width="8.92" height="11.12" fill="#efbeba"/>
<rect x="253.29" y="309.13" width="8.92" height="11.12" fill="#db6961"/>
<rect x="261.91" y="309.13" width="8.92" height="11.12" fill="#f1c5c2"/>
<rect x="270.53" y="309.13" width="8.92" height="11.12" fill="#f6dbd9"/>
<rect x="279.15" y="309.13" width="8.92" height="11.12" fill="#ffffff"/>
<rect x="287.77" y="309.13" width="8.92" height="11.12" fill="#e8f2e9"/>
<rect x="296.39" y="309.13" width="8.92" height="11.12" fill="#f8e2e1"/>
<rect x="305.01" y="309.13" width="8.92" height="11.12" fill="#e38c86"/>
<rect x="313.64" y="309.13" width="8.92" height="11.12" fill="#f8e2e1"/>
<rect x="322.26" y="309.13" width="8.92" height="11.12" fill="#e38c86"/>
<rect x="330.88" y="309.13" width="8.92" height="11.12" fill="#e9a5a0"/>
<rect x="339.5" y="309.13" width="8.92" height="11.12" fill="#e3efe4"/>
<rect x="348.12" y="309.13" width="8.92" height="11.12" fill="#ffffff"/>
<rect x="356.74" y="309.13" width="8.92" height="11.12" fill="#ebaea9"/>
<rect x="365.36" y="309.13" width="8.92" height="11.12" fill="#ffffff"/>
<rect x="373.99" y="309.13" width="8.92" height="11.12" fill="#cd3126"/>
<rect x="382.61" y="309.13" width="8.92" height="11.12" fill="#cbe2cc"/>
<rect x="391.23" y="309.13" width="8.92" height="11.12" fill="#edf5ee"/>
<rect x="98.1" y="319.95" width="8.92" height="11.12" fill="#d5e7d5"/>
<rect x="106.72" y="319.95" width="8.92" height="11.12" fill="#ffffff"/>
<rect x="115.34" y="319.95" width="8.92" height="11.12" fill="#df7b73"/>
<rect x="123.96" y="319.95" width="8.92" height="11.12" fill="#e8f2e9"/>
<rect x="132.59" y="319.95" width="8.92" height="11.12" fill="#ffffff"/>
<rect x="141.21" y="319.95" width="8.92" height="11.12" fill="#e8f2e9"/>
<rect x="149.83" y="319.95" width="8.92" height="11.12" fill="#bddabf"/>
<rect x="158.45" y="319.95" width="8.92" height="11.12" fill="#b4d5b6"/>
<rect x="167.07" y="319.95" width="8.92" height="11.12" fill="#e38c86"/>
<rect x="175.69" y="319.95" width="8.92" height="11.12" fill="#edf5ee"/>
<rect x="184.31" y="319.95" width="8.92" height="11.12" fill="#ffffff"/>
<rect x="192.94" y="319.95" width="8.92" height="11.12" fill="#ffffff"/>
<rect x="201.56" y="319.95" width="8.92" height="11.12" fill="#d9eada"/>
<rect x="210.18" y="319.95" width="8.92" height="11.12" fill="#b0d3b1"/>
<rect x="218.8" y="319.95" width="8.92" height="11.12" fill="#ffffff"/>
<rect x="227.42" y="319.95" width="8.92" height="11.12" fill="#e8f2e9"/>
<rect x="236.04" y="319.95" width="8.92" height="11.12" fill="#e3efe4"/>
<rect x="244.66" y="319.95" width="8.92" height="11.12" fill="#e3efe4"/>
<rect x="253.29" y="319.95" width="8.92" height="11.12" fill="#f3cdca"/>
<rect x="261.91" y="319.95" width="8.92" height="11.12" fill="#f6dbd9"/>
<rect x="270.53" y="319.95" width="8.92" height="11.12" fill="#db6961"/>
<rect x="279.15" y="319.95" width="8.92" height="11.12" fill="#f6dbd9"/>
<rect x="287.77" y="319.95" width="8.92" height="11.12" fill="#db6961"/>
<rect x="296.39" y="319.95" width="8.92" height="11.12" fill="#df7b73"/>
<rect x="305.01" y="319.95" width="8.92" height="11.12" fill="#f8e2e1"/>
<rect x="313.64" y="319.95" width="8.92" height="11.12" fill="#fbf0ef"/>
<rect x="322.26" y="319.95" width="8.92" height="11.12" fill="#ffffff"/>
<rect x="330.88" y="319.95" width="8.92" height="11.12" fill="#cd3126"/>
<rect x="339.5" y="319.95" width="8.92" height="11.12" fill="#b9d8ba"/>
<rect x="348.12" y="319.95" width="8.92" height="11.12" fill="#d9eada"/>
<rect x="356.74" y="319.95" width="8.92" height="11.12" fill="#edb6b2"/>
<rect x="365.36" y="319.95" width="8.92" height="11.12" fill="#cbe2cc"/>
<rect x="373.99" y="319.95" width="8.92" height="11.12" fill="#d03b30"/>
<rect x="382.61" y="319.95" width="8.92" height="11.12" fill="#d0e5d1"/>
<rect x="391.23" y="319.95" width="8.92" height="11.12" fill="#edf5ee"/>
<rect x="98.1" y="330.77" width="8.92" height="11.12" fill="#f6dbd9"/>
<rect x="106.72" y="330.77" width="8.92" height="11.12" fill="#d0e5d1"/>
<rect x="115.34" y="330.77" width="8.92" height="11.12" fill="#d0e5d1"/>
<rect x="123.96" y="330.77" width="8.92" height="11.12" fill="#d9eada"/>
<rect x="132.59" y="330.77" width="8.92" height="11.12" fill="#e3efe4"/>
<rect x="141.21" y="330.77" width="8.92" height="11.12" fill="#ffffff"/>
<rect x="149.83" y="330.77" width="8.92" height="11.12" fill="#f3cdca"/>
<rect x="158.45" y="330.77" width="8.92" height="11.12" fill="#d0e5d1"/>
<rect x="167.07" y="330.77" width="8.92" height="11.12" fill="#f3f8f3"/>
<rect x="175.69" y="330.77" width="8.92" height="11.12" fill="#f8e2e1"/>
<rect x="184.31" y="330.77" width="8.92" height="11.12" fill="#fdf5f5"/>
<rect x="192.94" y="330.77" width="8.92" height="11.12" fill="#fdf5f5"/>
<rect x="201.56" y="330.77" width="8.92" height="11.12" fill="#ffffff"/>
<rect x="210.18" y="330.77" width="8.92" height="11.12" fill="#ffffff"/>
<rect x="218.8" y="330.77" width="8.92" height="11.12" fill="#d0e5d1"/>
<rect x="227.42" y="330.77" width="8.92" height="11.12" fill="#d0e5d1"/>
<rect x="236.04" y="330.77" width="8.92" height="11.12" fill="#d0e5d1"/>
<rect x="244.66" y="330.77" width="8.92" height="11.12" fill="#dd726a"/>
<rect x="253.29" y="330.77" width="8.92" height="11.12" fill="#f8e2e1"/>
<rect x="261.91" y="330.77" width="8.92" height="11.12" fill="#d44e44"/>
<rect x="270.53" y="330.77" width="8.92" height="11.12" fill="#d0e5d1"/>
<rect x="279.15" y="330.77" width="8.92" height="11.12" fill="#d0e5d1"/>
<rect x="287.77" y="330.77" width="8.92" height="11.12" fill="#efbeba"/>
<rect x="296.39" y="330.77" width="8.92" height="11.12" fill="#d5e7d5"/>
<rect x="305.01" y="330.77" width="8.92" height="11.12" fill="#df7b73"/>
<rect x="313.64" y="330.77" width="8.92" height="11.12" fill="#fdf5f5"/>
<rect x="322.26" y="330.77" width="8.92" height="11.12" fill="#d03b30"/>
<rect x="330.88" y="330.77" width="8.92" height="11.12" fill="#d0e5d1"/>
<rect x="339.5" y="330.77" width="8.92" height="11.12" fill="#d9eada"/>
<rect x="348.12" y="330.77" width="8.92" height="11.12" fill="#efbeba"/>
<rect x="356.74" y="330.77" width="8.92" height="11.12" fill="#efbeba"/>
<rect x="365.36" y="330.77" width="8.92" height="11.12" fill="#ebaea9"/>
<rect x="373.99" y="330.77" width="8.92" height="11.12" fill="#cb281c"/>
<rect x="382.61" y="330.77" width="8.92" height="11.12" fill="#d5e7d5"/>
<rect x="391.23" y="330.77" width="8.92" height="11.12" fill="#d5e7d5"/>
<rect x="98.1" y="341.59" width="8.92" height="11.12" fill="#ffffff"/>
<rect x="106.72" y="341.59" width="8.92" height="11.12" fill="#f1c5c2"/>
<rect x="115.34" y="341.59" width="8.92" height="11.12" fill="#f5d4d2"/>
<rect x="123.96" y="341.59" width="8.92" height="11.12" fill="#d5e7d5"/>
<rect x="132.59" y="341.59" width="8.92" height="11.12" fill="#ffffff"/>
<rect x="141.21" y="341.59" width="8.92" height="11.12" fill="#ebaea9"/>
<rect x="149.83" y="341.59" width="8.92" height="11.12" fill="#cbe2cc"/>
<rect x="158.45" y="341.59" width="8.92" height="11.12" fill="#abd0ad"/>
<rect x="167.07" y="341.59" width="8.92" height="11.12" fill="#e3efe4"/>
<rect x="175.69" y="341.59" width="8.92" height="11.12" fill="#f3f8f3"/>
<rect x="184.31" y="341.59" width="8.92" height="11.12" fill="#f5d4d2"/>
<rect x="192.94" y="341.59" width="8.92" height="11.12" fill="#ffffff"/>
<rect x="201.56" y="341.59" width="8.92" height="11.12" fill="#e8f2e9"/>
<rect x="210.18" y="341.59" width="8.92" height="11.12" fill="#d5e7d5"/>
<rect x="218.8" y="341.59" width="8.92" height="11.12" fill="#e3efe4"/>
<rect x="227.42" y="341.59" width="8.92" height="11.12" fill="#b0d3b1"/>
<rect x="236.04" y="341.59" width="8.92" height="11.12" fill="#e3efe4"/>
<rect x="244.66" y="341.59" width="8.92" height="11.12" fill="#fefbfb"/>
<rect x="253.29" y="341.59" width="8.92" height="11.12" fill="#f5d4d2"/>
<rect x="261.91" y="341.59" width="8.92" height="11.12" fill="#f3cdca"/>
<rect x="270.53" y="341.59" width="8.92" height="11.12" fill="#dd726a"/>
<rect x="279.15" y="341.59" width="8.92" height="11.12" fill="#abd0ad"/>
<rect x="287.77" y="341.59" width="8.92" height="11.12" fill="#df7b73"/>
<rect x="296.39" y="341.59" width="8.92" height="11.12" fill="#f3cdca"/>
<rect x="305.01" y="341.59" width="8.92" height="11.12" fill="#f3cdca"/>
<rect x="313.64" y="341.59" width="8.92" height="11.12" fill="#e3efe4"/>
<rect x="322.26" y="341.59" width="8.92" height="11.12" fill="#f1c5c2"/>
<rect x="330.88" y="341.59" width="8.92" height="11.12" fill="#d96057"/>
<rect x="339.5" y="341.59" width="8.92" height="11.12" fill="#b9d8ba"/>
<rect x="348.12" y="341.59" width="8.92" height="11.12" fill="#f3f8f3"/>
<rect x="356.74" y="341.59" width="8.92" height="11.12" fill="#e1837d"/>
<rect x="365.36" y="341.59" width="8.92" height="11.12" fill="#fdf5f5"/>
<rect x="373.99" y="341.59" width="8.92" height="11.12" fill="#cb281c"/>
<rect x="382.61" y="341.59" width="8.92" height="11.12" fill="#d5e7d5"/>
<rect x="391.23" y="341.59" width="8.92" height="11.12" fill="#fdf5f5"/>
<rect x="98.1" y="352.4" width="8.92" height="11.12" fill="#edf5ee"/>
<rect x="106.72" y="352.4" width="8.92" height="11.12" fill="#cbe2cc"/>
<rect x="115.34" y="352.4" width="8.92" height="11.12" fill="#d6574d"/>
<rect x="123.96" y="352.4" width="8.92" height="11.12" fill="#f6dbd9"/>
<rect x="132.59" y="352.4" width="8.92" height="11.12" fill="#f3f8f3"/>
<rect x="141.21" y="352.4" width="8.92" height="11.12" fill="#e8f2e9"/>
<rect x="149.83" y="352.4" width="8.92" height="11.12" fill="#e8f2e9"/>
<rect x="158.45" y="352.4" width="8.92" height="11.12" fill="#ffffff"/>
<rect x="167.07" y="352.4" width="8.92" height="11.12" fill="#f3cdca"/>
<rect x="175.69" y="352.4" width="8.92" height="11.12" fill="#f3cdca"/>
<rect x="184.31" y="352.4" width="8.92" height="11.12" fill="#efbeba"/>
<rect x="192.94" y="352.4" width="8.92" height="11.12" fill="#cbe2cc"/>
<rect x="201.56" y="352.4" width="8.92" height="11.12" fill="#f8fbf9"/>
<rect x="210.18" y="352.4" width="8.92" height="11.12" fill="#fbf0ef"/>
<rect x="218.8" y="352.4" width="8.92" height="11.12" fill="#edb6b2"/>
<rect x="227.42" y="352.4" width="8.92" height="11.12" fill="#d0e5d1"/>
<rect x="236.04" y="352.4" width="8.92" height="11.12" fill="#cbe2cc"/>
<rect x="244.66" y="352.4" width="8.92" height="11.12" fill="#edf5ee"/>
<rect x="253.29" y="352.4" width="8.92" height="11.12" fill="#e5958f"/>
<rect x="261.91" y="352.4" width="8.92" height="11.12" fill="#f3f8f3"/>
<rect x="270.53" y="352.4" width="8.92" height="11.12" fill="#cb281c"/>
<rect x="279.15" y="352.4" width="8.92" height="11.12" fill="#edf5ee"/>
<rect x="287.77" y="352.4" width="8.92" height="11.12" fill="#fbf0ef"/>
<rect x="296.39" y="352.4" width="8.92" height="11.12" fill="#f5d4d2"/>
<rect x="305.01" y="352.4" width="8.92" height="11.12" fill="#edf5ee"/>
<rect x="313.64" y="352.4" width="8.92" height="11.12" fill="#e3efe4"/>
<rect x="322.26" y="352.4" width="8.92" height="11.12" fill="#fbf0ef"/>
<rect x="330.88" y="352.4" width="8.92" height="11.12" fill="#ffffff"/>
<rect x="339.5" y="352.4" width="8.92" height="11.12" fill="#d0e5d1"/>
<rect x="348.12" y="352.4" width="8.92" height="11.12" fill="#f1c5c2"/>
<rect x="356.74" y="352.4" width="8.92" height="11.12" fill="#f3cdca"/>
<rect x="365.36" y="352.4" width="8.92" height="11.12" fill="#80b883"/>
<rect x="373.99" y="352.4" width="8.92" height="11.12" fill="#cd3126"/>
<rect x="382.61" y="352.4" width="8.92" height="11.12" fill="#d5e7d5"/>
<rect x="391.23" y="352.4" width="8.92" height="11.12" fill="#e8f2e9"/>
<rect x="98.1" y="363.22" width="8.92" height="11.12" fill="#cbe2cc"/>
<rect x="106.72" y="363.22" width="8.92" height="11.12" fill="#cbe2cc"/>
<rect x="115.34" y="363.22" width="8.92" height="11.12" fill="#ffffff"/>
<rect x="123.96" y="363.22" width="8.92" height="11.12" fill="#d5e7d5"/>
<rect x="132.59" y="363.22" width="8.92" height="11.12" fill="#f3f8f3"/>
<rect x="141.21" y="363.22" width="8.92" height="11.12" fill="#f5d4d2"/>
<rect x="149.83" y="363.22" width="8.92" height="11.12" fill="#e8f2e9"/>
<rect x="158.45" y="363.22" width="8.92" height="11.12" fill="#e3efe4"/>
<rect x="167.07" y="363.22" width="8.92" height="11.12" fill="#ffffff"/>
<rect x="175.69" y="363.22" width="8.92" height="11.12" fill="#ffffff"/>
<rect x="184.31" y="363.22" width="8.92" height="11.12" fill="#fbf0ef"/>
<rect x="192.94" y="363.22" width="8.92" height="11.12" fill="#cbe2cc"/>
<rect x="201.56" y="363.22" width="8.92" height="11.12" fill="#f3f8f3"/>
<rect x="210.18" y="363.22" width="8.92" height="11.12" fill="#cbe2cc"/>
<rect x="218.8" y="363.22" width="8.92" height="11.12" fill="#cbe2cc"/>
<rect x="227.42" y="363.22" width="8.92" height="11.12" fill="#cbe2cc"/>
<rect x="236.04" y="363.22" width="8.92" height="11.12" fill="#cbe2cc"/>
<rect x="244.66" y="363.22" width="8.92" height="11.12" fill="#efbeba"/>
<rect x="253.29" y="363.22" width="8.92" height="11.12" fill="#f1c5c2"/>
<rect x="261.91" y="363.22" width="8.92" height="11.12" fill="#dd726a"/>
<rect x="270.53" y="363.22" width="8.92" height="11.12" fill="#edb6b2"/>
<rect x="279.15" y="363.22" width="8.92" height="11.12" fill="#d0e5d1"/>
<rect x="287.77" y="363.22" width="8.92" height="11.12" fill="#fefbfb"/>
<rect x="296.39" y="363.22" width="8.92" height="11.12" fill="#d5e7d5"/>
<rect x="305.01" y="363.22" width="8.92" height="11.12" fill="#db6961"/>
<rect x="313.64" y="363.22" width="8.92" height="11.12" fill="#f8e2e1"/>
<rect x="322.26" y="363.22" width="8.92" height="11.12" fill="#cd3126"/>
<rect x="330.88" y="363.22" width="8.92" height="11.12" fill="#df7b73"/>
<rect x="339.5" y="363.22" width="8.92" height="11.12" fill="#e3efe4"/>
<rect x="348.12" y="363.22" width="8.92" height="11.12" fill="#ebaea9"/>
<rect x="356.74" y="363.22" width="8.92" height="11.12" fill="#e5958f"/>
<rect x="365.36" y="363.22" width="8.92" height="11.12" fill="#f5d4d2"/>
<rect x="373.99" y="363.22" width="8.92" height="11.12" fill="#d6574d"/>
<rect x="382.61" y="363.22" width="8.92" height="11.12" fill="#f3f8f3"/>
<rect x="391.23" y="363.22" width="8.92" height="11.12" fill="#d0e5d1"/>
<rect x="98.1" y="374.04" width="8.92" height="11.12" fill="#e3efe4"/>
<rect x="106.72" y="374.04" width="8.92" height="11.12" fill="#a2cba4"/>
<rect x="115.34" y="374.04" width="8.92" height="11.12" fill="#edb6b2"/>
<rect x="123.96" y="374.04" width="8.92" height="11.12" fill="#f3f8f3"/>
<rect x="132.59" y="374.04" width="8.92" height="11.12" fill="#edf5ee"/>
<rect x="141.21" y="374.04" width="8.92" height="11.12" fill="#f1c5c2"/>
<rect x="149.83" y="374.04" width="8.92" height="11.12" fill="#f1c5c2"/>
<rect x="158.45" y="374.04" width="8.92" height="11.12" fill="#e3efe4"/>
<rect x="167.07" y="374.04" width="8.92" height="11.12" fill="#f8e2e1"/>
<rect x="175.69" y="374.04" width="8.92" height="11.12" fill="#e3efe4"/>
<rect x="184.31" y="374.04" width="8.92" height="11.12" fill="#db6961"/>
<rect x="192.94" y="374.04" width="8.92" height="11.12" fill="#abd0ad"/>
<rect x="201.56" y="374.04" width="8.92" height="11.12" fill="#fbf0ef"/>
<rect x="210.18" y="374.04" width="8.92" height="11.12" fill="#f1c5c2"/>
<rect x="218.8" y="374.04" width="8.92" height="11.12" fill="#efbeba"/>
<rect x="227.42" y="374.04" width="8.92" height="11.12" fill="#d5e7d5"/>
<rect x="236.04" y="374.04" width="8.92" height="11.12" fill="#89bd8b"/>
<rect x="244.66" y="374.04" width="8.92" height="11.12" fill="#dd726a"/>
<rect x="253.29" y="374.04" width="8.92" height="11.12" fill="#fbf0ef"/>
<rect x="261.91" y="374.04" width="8.92" height="11.12" fill="#e5958f"/>
<rect x="270.53" y="374.04" width="8.92" height="11.12" fill="#ffffff"/>
<rect x="279.15" y="374.04" width="8.92" height="11.12" fill="#67aa6a"/>
<rect x="287.77" y="374.04" width="8.92" height="11.12" fill="#ffffff"/>
<rect x="296.39" y="374.04" width="8.92" height="11.12" fill="#edf5ee"/>
<rect x="305.01" y="374.04" width="8.92" height="11.12" fill="#f1c5c2"/>
<rect x="313.64" y="374.04" width="8.92" height="11.12" fill="#f8e2e1"/>
<rect x="322.26" y="374.04" width="8.92" height="11.12" fill="#e5958f"/>
<rect x="330.88" y="374.04" width="8.92" height="11.12" fill="#e8f2e9"/>
<rect x="339.5" y="374.04" width="8.92" height="11.12" fill="#fdf5f5"/>
<rect x="348.12" y="374.04" width="8.92" height="11.12" fill="#fbf0ef"/>
<rect x="356.74" y="374.04" width="8.92" height="11.12" fill="#f1c5c2"/>
<rect x="365.36" y="374.04" width="8.92" height="11.12" fill="#fbf0ef"/>
<rect x="373.99" y="374.04" width="8.92" height="11.12" fill="#e1837d"/>
<rect x="382.61" y="374.04" width="8.92" height="11.12" fill="#ffffff"/>
<rect x="391.23" y="374.04" width="8.92" height="11.12" fill="#ffffff"/>
<rect x="98.1" y="384.86" width="8.92" height="11.12" fill="#d9eada"/>
<rect x="106.72" y="384.86" width="8.92" height="11.12" fill="#95c498"/>
<rect x="115.34" y="384.86" width="8.92" height="11.12" fill="#fbf0ef"/>
<rect x="123.96" y="384.86" width="8.92" height="11.12" fill="#e3efe4"/>
<rect x="132.59" y="384.86" width="8.92" height="11.12" fill="#e3efe4"/>
<rect x="141.21" y="384.86" width="8.92" height="11.12" fill="#f3cdca"/>
<rect x="149.83" y="384.86" width="8.92" height="11.12" fill="#edb6b2"/>
<rect x="158.45" y="384.86" width="8.92" height="11.12" fill="#cbe2cc"/>
<rect x="167.07" y="384.86" width="8.92" height="11.12" fill="#e8f2e9"/>
<rect x="175.69" y="384.86" width="8.92" height="11.12" fill="#f8e2e1"/>
<rect x="184.31" y="384.86" width="8.92" height="11.12" fill="#f3cdca"/>
<rect x="192.94" y="384.86" width="8.92" height="11.12" fill="#edf5ee"/>
<rect x="201.56" y="384.86" width="8.92" height="11.12" fill="#fdf5f5"/>
<rect x="210.18" y="384.86" width="8.92" height="11.12" fill="#f3f8f3"/>
<rect x="218.8" y="384.86" width="8.92" height="11.12" fill="#d9eada"/>
<rect x="227.42" y="384.86" width="8.92" height="11.12" fill="#d5e7d5"/>
<rect x="236.04" y="384.86" width="8.92" height="11.12" fill="#91c293"/>
<rect x="244.66" y="384.86" width="8.92" height="11.12" fill="#e1837d"/>
<rect x="253.29" y="384.86" width="8.92" height="11.12" fill="#f1c5c2"/>
<rect x="261.91" y="384.86" width="8.92" height="11.12" fill="#df7b73"/>
<rect x="270.53" y="384.86" width="8.92" height="11.12" fill="#fbf0ef"/>
<rect x="279.15" y="384.86" width="8.92" height="11.12" fill="#d0e5d1"/>
<rect x="287.77" y="384.86" width="8.92" height="11.12" fill="#e8f2e9"/>
<rect x="296.39" y="384.86" width="8.92" height="11.12" fill="#c2ddc3"/>
<rect x="305.01" y="384.86" width="8.92" height="11.12" fill="#edb6b2"/>
<rect x="313.64" y="384.86" width="8.92" height="11.12" fill="#ffffff"/>
<rect x="322.26" y="384.86" width="8.92" height="11.12" fill="#df7b73"/>
<rect x="330.88" y="384.86" width="8.92" height="11.12" fill="#95c498"/>
<rect x="339.5" y="384.86" width="8.92" height="11.12" fill="#ffffff"/>
<rect x="348.12" y="384.86" width="8.92" height="11.12" fill="#f5d4d2"/>
<rect x="356.74" y="384.86" width="8.92" height="11.12" fill="#e1837d"/>
<rect x="365.36" y="384.86" width="8.92" height="11.12" fill="#edb6b2"/>
<rect x="373.99" y="384.86" width="8.92" height="11.12" fill="#e79d98"/>
<rect x="382.61" y="384.86" width="8.92" height="11.12" fill="#e9a5a0"/>
<rect x="391.23" y="384.86" width="8.92" height="11.12" fill="#e9a5a0"/>
<rect x="98.1" y="395.68" width="8.92" height="11.12" fill="#f6dbd9"/>
<rect x="106.72" y="395.68" width="8.92" height="11.12" fill="#f5d4d2"/>
<rect x="115.34" y="395.68" width="8.92" height="11.12" fill="#f5d4d2"/>
<rect x="123.96" y="395.68" width="8.92" height="11.12" fill="#ffffff"/>
<rect x="132.59" y="395.68" width="8.92" height="11.12" fill="#f3cdca"/>
<rect x="141.21" y="395.68" width="8.92" height="11.12" fill="#429646"/>
<rect x="149.83" y="395.68" width="8.92" height="11.12" fill="#fefbfb"/>
<rect x="158.45" y="395.68" width="8.92" height="11.12" fill="#f6dbd9"/>
<rect x="167.07" y="395.68" width="8.92" height="11.12" fill="#f5d4d2"/>
<rect x="175.69" y="395.68" width="8.92" height="11.12" fill="#ffffff"/>
<rect x="184.31" y="395.68" width="8.92" height="11.12" fill="#f3cdca"/>
<rect x="192.94" y="395.68" width="8.92" height="11.12" fill="#f6dbd9"/>
<rect x="201.56" y="395.68" width="8.92" height="11.12" fill="#edf5ee"/>
<rect x="210.18" y="395.68" width="8.92" height="11.12" fill="#e5958f"/>
<rect x="218.8" y="395.68" width="8.92" height="11.12" fill="#e8f2e9"/>
<rect x="227.42" y="395.68" width="8.92" height="11.12" fill="#efbeba"/>
<rect x="236.04" y="395.68" width="8.92" height="11.12" fill="#f5d4d2"/>
<rect x="244.66" y="395.68" width="8.92" height="11.12" fill="#ffffff"/>
<rect x="253.29" y="395.68" width="8.92" height="11.12" fill="#f6dbd9"/>
<rect x="261.91" y="395.68" width="8.92" height="11.12" fill="#edf5ee"/>
<rect x="270.53" y="395.68" width="8.92" height="11.12" fill="#fbf0ef"/>
<rect x="279.15" y="395.68" width="8.92" height="11.12" fill="#ebaea9"/>
<rect x="287.77" y="395.68" width="8.92" height="11.12" fill="#edb6b2"/>
<rect x="296.39" y="395.68" width="8.92" height="11.12" fill="#efbeba"/>
<rect x="305.01" y="395.68" width="8.92" height="11.12" fill="#d5e7d5"/>
<rect x="313.64" y="395.68" width="8.92" height="11.12" fill="#f6dbd9"/>
<rect x="322.26" y="395.68" width="8.92" height="11.12" fill="#ffffff"/>
<rect x="330.88" y="395.68" width="8.92" height="11.12" fill="#e9a5a0"/>
<rect x="339.5" y="395.68" width="8.92" height="11.12" fill="#f8fbf9"/>
<rect x="348.12" y="395.68" width="8.92" height="11.12" fill="#f3f8f3"/>
<rect x="356.74" y="395.68" width="8.92" height="11.12" fill="#e8f2e9"/>
<rect x="365.36" y="395.68" width="8.92" height="11.12" fill="#9ec9a0"/>
<rect x="373.99" y="395.68" width="8.92" height="11.12" fill="#f6dbd9"/>
<rect x="382.61" y="395.68" width="8.92" height="11.12" fill="#d0e5d1"/>
<rect x="391.23" y="395.68" width="8.92" height="11.12" fill="#ffffff"/>
</g>
<rect x="98.1" y="179.3" width="301.75" height="227.2" fill="none" stroke="#000" stroke-width="1.5"/>
<line x1="93.2" y1="184.71" x2="98.1" y2="184.71" stroke="#000" stroke-width="1"/>
<text x="88.9" y="187.63" font-size="8.5" text-anchor="end" stroke="#111" stroke-width="0.16">IFI16</text>
<line x1="93.2" y1="195.53" x2="98.1" y2="195.53" stroke="#000" stroke-width="1"/>
<text x="88.9" y="198.45" font-size="8.5" text-anchor="end" stroke="#111" stroke-width="0.16">IFI27</text>
<line x1="93.2" y1="206.35" x2="98.1" y2="206.35" stroke="#000" stroke-width="1"/>
<text x="88.9" y="209.27" font-size="8.5" text-anchor="end" stroke="#111" stroke-width="0.16">IFI35</text>
<line x1="93.2" y1="217.17" x2="98.1" y2="217.17" stroke="#000" stroke-width="1"/>
<text x="88.9" y="220.09" font-size="8.5" text-anchor="end" stroke="#111" stroke-width="0.16">IFI6</text>
<line x1="93.2" y1="227.99" x2="98.1" y2="227.99" stroke="#000" stroke-width="1"/>
<text x="88.9" y="230.91" font-size="8.5" text-anchor="end" stroke="#111" stroke-width="0.16">IFIT1</text>
<line x1="93.2" y1="238.8" x2="98.1" y2="238.8" stroke="#000" stroke-width="1"/>
<text x="88.9" y="241.73" font-size="8.5" text-anchor="end" stroke="#111" stroke-width="0.16">IFIT2</text>
<line x1="93.2" y1="249.62" x2="98.1" y2="249.62" stroke="#000" stroke-width="1"/>
<text x="88.9" y="252.55" font-size="8.5" text-anchor="end" stroke="#111" stroke-width="0.16">IFIT3</text>
<line x1="93.2" y1="260.44" x2="98.1" y2="260.44" stroke="#000" stroke-width="1"/>
<text x="88.9" y="263.37" font-size="8.5" text-anchor="end" stroke="#111" stroke-width="0.16">IFITM1</text>
<line x1="93.2" y1="271.26" x2="98.1" y2="271.26" stroke="#000" stroke-width="1"/>
<text x="88.9" y="274.19" font-size="8.5" text-anchor="end" stroke="#111" stroke-width="0.16">IFITM2</text>
<line x1="93.2" y1="282.08" x2="98.1" y2="282.08" stroke="#000" stroke-width="1"/>
<text x="88.9" y="285" font-size="8.5" text-anchor="end" stroke="#111" stroke-width="0.16">ISG15</text>
<line x1="93.2" y1="292.9" x2="98.1" y2="292.9" stroke="#000" stroke-width="1"/>
<text x="88.9" y="295.82" font-size="8.5" text-anchor="end" stroke="#111" stroke-width="0.16">OAS1</text>
<line x1="93.2" y1="303.72" x2="98.1" y2="303.72" stroke="#000" stroke-width="1"/>
<text x="88.9" y="306.64" font-size="8.5" text-anchor="end" stroke="#111" stroke-width="0.16">OAS2</text>
<line x1="93.2" y1="314.54" x2="98.1" y2="314.54" stroke="#000" stroke-width="1"/>
<text x="88.9" y="317.46" font-size="8.5" text-anchor="end" stroke="#111" stroke-width="0.16">OAS3</text>
<line x1="93.2" y1="325.36" x2="98.1" y2="325.36" stroke="#000" stroke-width="1"/>
<text x="88.9" y="328.28" font-size="8.5" text-anchor="end" stroke="#111" stroke-width="0.16">MX1</text>
<line x1="93.2" y1="336.18" x2="98.1" y2="336.18" stroke="#000" stroke-width="1"/>
<text x="88.9" y="339.1" font-size="8.5" text-anchor="end" stroke="#111" stroke-width="0.16">CCL8</text>
<line x1="93.2" y1="347" x2="98.1" y2="347" stroke="#000" stroke-width="1"/>
<text x="88.9" y="349.92" font-size="8.5" text-anchor="end" stroke="#111" stroke-width="0.16">RSAD2</text>
<line x1="93.2" y1="357.81" x2="98.1" y2="357.81" stroke="#000" stroke-width="1"/>
<text x="88.9" y="360.74" font-size="8.5" text-anchor="end" stroke="#111" stroke-width="0.16">IFIH1</text>
<line x1="93.2" y1="368.63" x2="98.1" y2="368.63" stroke="#000" stroke-width="1"/>
<text x="88.9" y="371.56" font-size="8.5" text-anchor="end" stroke="#111" stroke-width="0.16">SIGLEC1</text>
<line x1="93.2" y1="379.45" x2="98.1" y2="379.45" stroke="#000" stroke-width="1"/>
<text x="88.9" y="382.38" font-size="8.5" text-anchor="end" stroke="#111" stroke-width="0.16">CD68</text>
<line x1="93.2" y1="390.27" x2="98.1" y2="390.27" stroke="#000" stroke-width="1"/>
<text x="88.9" y="393.2" font-size="8.5" text-anchor="end" stroke="#111" stroke-width="0.16">CD163</text>
<line x1="93.2" y1="401.09" x2="98.1" y2="401.09" stroke="#000" stroke-width="1"/>
<text x="88.9" y="404.01" font-size="8.5" text-anchor="end" stroke="#111" stroke-width="0.16">CD19</text>
<line x1="98.9" y1="174.3" x2="242.8" y2="174.3" stroke="#000" stroke-width="1"/>
<line x1="245.8" y1="174.3" x2="397.2" y2="174.3" stroke="#000" stroke-width="1"/>
<line x1="102.11" y1="174.3" x2="102.11" y2="178.8" stroke="#000" stroke-width="0.9"/>
<line x1="110.73" y1="174.3" x2="110.73" y2="178.8" stroke="#000" stroke-width="0.9"/>
<line x1="119.35" y1="174.3" x2="119.35" y2="178.8" stroke="#000" stroke-width="0.9"/>
<line x1="127.98" y1="174.3" x2="127.98" y2="178.8" stroke="#000" stroke-width="0.9"/>
<line x1="136.6" y1="174.3" x2="136.6" y2="178.8" stroke="#000" stroke-width="0.9"/>
<line x1="145.22" y1="174.3" x2="145.22" y2="178.8" stroke="#000" stroke-width="0.9"/>
<line x1="153.84" y1="174.3" x2="153.84" y2="178.8" stroke="#000" stroke-width="0.9"/>
<line x1="162.46" y1="174.3" x2="162.46" y2="178.8" stroke="#000" stroke-width="0.9"/>
<line x1="171.08" y1="174.3" x2="171.08" y2="178.8" stroke="#000" stroke-width="0.9"/>
<line x1="179.7" y1="174.3" x2="179.7" y2="178.8" stroke="#000" stroke-width="0.9"/>
<line x1="188.32" y1="174.3" x2="188.32" y2="178.8" stroke="#000" stroke-width="0.9"/>
<line x1="196.95" y1="174.3" x2="196.95" y2="178.8" stroke="#000" stroke-width="0.9"/>
<line x1="205.57" y1="174.3" x2="205.57" y2="178.8" stroke="#000" stroke-width="0.9"/>
<line x1="214.19" y1="174.3" x2="214.19" y2="178.8" stroke="#000" stroke-width="0.9"/>
<line x1="222.81" y1="174.3" x2="222.81" y2="178.8" stroke="#000" stroke-width="0.9"/>
<line x1="231.43" y1="174.3" x2="231.43" y2="178.8" stroke="#000" stroke-width="0.9"/>
<line x1="240.05" y1="174.3" x2="240.05" y2="178.8" stroke="#000" stroke-width="0.9"/>
<line x1="248.67" y1="174.3" x2="248.67" y2="178.8" stroke="#000" stroke-width="0.9"/>
<line x1="257.3" y1="174.3" x2="257.3" y2="178.8" stroke="#000" stroke-width="0.9"/>
<line x1="265.92" y1="174.3" x2="265.92" y2="178.8" stroke="#000" stroke-width="0.9"/>
<line x1="274.54" y1="174.3" x2="274.54" y2="178.8" stroke="#000" stroke-width="0.9"/>
<line x1="283.16" y1="174.3" x2="283.16" y2="178.8" stroke="#000" stroke-width="0.9"/>
<line x1="291.78" y1="174.3" x2="291.78" y2="178.8" stroke="#000" stroke-width="0.9"/>
<line x1="300.4" y1="174.3" x2="300.4" y2="178.8" stroke="#000" stroke-width="0.9"/>
<line x1="309.03" y1="174.3" x2="309.03" y2="178.8" stroke="#000" stroke-width="0.9"/>
<line x1="317.65" y1="174.3" x2="317.65" y2="178.8" stroke="#000" stroke-width="0.9"/>
<line x1="326.27" y1="174.3" x2="326.27" y2="178.8" stroke="#000" stroke-width="0.9"/>
<line x1="334.89" y1="174.3" x2="334.89" y2="178.8" stroke="#000" stroke-width="0.9"/>
<line x1="343.51" y1="174.3" x2="343.51" y2="178.8" stroke="#000" stroke-width="0.9"/>
<line x1="352.13" y1="174.3" x2="352.13" y2="178.8" stroke="#000" stroke-width="0.9"/>
<line x1="360.75" y1="174.3" x2="360.75" y2="178.8" stroke="#000" stroke-width="0.9"/>
<line x1="369.37" y1="174.3" x2="369.37" y2="178.8" stroke="#000" stroke-width="0.9"/>
<line x1="378" y1="174.3" x2="378" y2="178.8" stroke="#000" stroke-width="0.9"/>
<line x1="386.62" y1="174.3" x2="386.62" y2="178.8" stroke="#000" stroke-width="0.9"/>
<line x1="395.24" y1="174.3" x2="395.24" y2="178.8" stroke="#000" stroke-width="0.9"/>
<text x="134.5" y="171.3" font-size="9" textLength="71.3" lengthAdjust="spacingAndGlyphs" stroke="#111" stroke-width="0.16">Patients with a DR</text>
<text x="283.8" y="171.3" font-size="9" textLength="70.7" lengthAdjust="spacingAndGlyphs" stroke="#111" stroke-width="0.16">Patients with NDR</text>
<path d="M47.3 182.3 H45 V374.3 H47.3" fill="none" stroke="#000" stroke-width="1.1"/>
<path d="M50.2 367.2 H47.7 V390.8 H50.2" fill="none" stroke="#000" stroke-width="1.1"/>
<text transform="translate(56.2,291.3) rotate(-90)" font-size="8.6" textLength="56.5" lengthAdjust="spacingAndGlyphs" stroke="#111" stroke-width="0.16">IFN target genes</text>
<text transform="translate(56.6,389.5) rotate(-90)" font-size="8.6" textLength="13" lengthAdjust="spacingAndGlyphs" stroke="#111" stroke-width="0.16">Mϕ</text>
<defs><linearGradient id="cb" x1="0" y1="0" x2="0" y2="1"><stop offset="0" stop-color="#cb281c"/><stop offset="0.3829" stop-color="#fff"/><stop offset="1" stop-color="#3a913e"/></linearGradient></defs>
<rect x="409" y="179.1" width="13.4" height="71.3" fill="url(#cb)" stroke="#000" stroke-width="1.2"/>
<line x1="409" y1="185.9" x2="411" y2="185.9" stroke="#000" stroke-width="0.9"/>
<line x1="420.4" y1="185.9" x2="422.4" y2="185.9" stroke="#000" stroke-width="0.9"/>
<text x="426.2" y="188.62" font-size="8.8" stroke="#111" stroke-width="0.16">2</text>
<line x1="409" y1="206.3" x2="411" y2="206.3" stroke="#000" stroke-width="0.9"/>
<line x1="420.4" y1="206.3" x2="422.4" y2="206.3" stroke="#000" stroke-width="0.9"/>
<text x="426.2" y="209.02" font-size="8.8" stroke="#111" stroke-width="0.16">0</text>
<line x1="409" y1="226.4" x2="411" y2="226.4" stroke="#000" stroke-width="0.9"/>
<line x1="420.4" y1="226.4" x2="422.4" y2="226.4" stroke="#000" stroke-width="0.9"/>
<text x="426.2" y="229.12" font-size="8.8" stroke="#111" stroke-width="0.16">-2</text>
<line x1="409" y1="246.5" x2="411" y2="246.5" stroke="#000" stroke-width="0.9"/>
<line x1="420.4" y1="246.5" x2="422.4" y2="246.5" stroke="#000" stroke-width="0.9"/>
<text x="426.2" y="249.22" font-size="8.8" stroke="#111" stroke-width="0.16">-4</text>
<line x1="113.3" y1="437" x2="113.3" y2="566.6" stroke="#f0f0f0" stroke-width="0.6"/>
<line x1="147" y1="437" x2="147" y2="566.6" stroke="#f0f0f0" stroke-width="0.6"/>
<line x1="180.8" y1="437" x2="180.8" y2="566.6" stroke="#f0f0f0" stroke-width="0.6"/>
<line x1="214.6" y1="437" x2="214.6" y2="566.6" stroke="#f0f0f0" stroke-width="0.6"/>
<line x1="79.3" y1="439.9" x2="224" y2="439.9" stroke="#efefef" stroke-width="0.6"/>
<line x1="79.3" y1="449.75" x2="224" y2="449.75" stroke="#efefef" stroke-width="0.6"/>
<line x1="79.3" y1="459.6" x2="224" y2="459.6" stroke="#efefef" stroke-width="0.6"/>
<line x1="79.3" y1="469.45" x2="224" y2="469.45" stroke="#efefef" stroke-width="0.6"/>
<line x1="79.3" y1="479.3" x2="224" y2="479.3" stroke="#efefef" stroke-width="0.6"/>
<line x1="79.3" y1="489.15" x2="224" y2="489.15" stroke="#efefef" stroke-width="0.6"/>
<line x1="79.3" y1="499" x2="224" y2="499" stroke="#efefef" stroke-width="0.6"/>
<line x1="79.3" y1="531.7" x2="224" y2="531.7" stroke="#efefef" stroke-width="0.6"/>
<line x1="79.3" y1="542.3" x2="224" y2="542.3" stroke="#efefef" stroke-width="0.6"/>
<line x1="79.3" y1="553.1" x2="224" y2="553.1" stroke="#efefef" stroke-width="0.6"/>
<line x1="79.3" y1="563.5" x2="224" y2="563.5" stroke="#efefef" stroke-width="0.6"/>
<line x1="79.3" y1="498.8" x2="224" y2="498.8" stroke="#d8d8d8" stroke-width="0.7"/>
<line x1="79.3" y1="525.2" x2="224" y2="525.2" stroke="#e6e6e6" stroke-width="0.6"/>
<line x1="84.9" y1="499.1" x2="84.9" y2="520.4" stroke="#000" stroke-width="0.75" stroke-opacity="0.59"/>
<line x1="94" y1="499.1" x2="94" y2="520.4" stroke="#000" stroke-width="0.75" stroke-opacity="0.98"/>
<line x1="102.5" y1="499.1" x2="102.5" y2="520.4" stroke="#000" stroke-width="0.75" stroke-opacity="0.59"/>
<line x1="106" y1="499.1" x2="106" y2="520.4" stroke="#000" stroke-width="0.75" stroke-opacity="0.85"/>
<line x1="109.5" y1="499.1" x2="109.5" y2="520.4" stroke="#000" stroke-width="0.75" stroke-opacity="0.59"/>
<line x1="136" y1="499.1" x2="136" y2="520.4" stroke="#000" stroke-width="0.75" stroke-opacity="0.59"/>
<line x1="139.5" y1="499.1" x2="139.5" y2="520.4" stroke="#000" stroke-width="0.75" stroke-opacity="0.91"/>
<line x1="143.4" y1="499.1" x2="143.4" y2="520.4" stroke="#000" stroke-width="0.75" stroke-opacity="0.91"/>
<line x1="153.2" y1="499.1" x2="153.2" y2="520.4" stroke="#000" stroke-width="0.75" stroke-opacity="0.72"/>
<line x1="157.1" y1="499.1" x2="157.1" y2="520.4" stroke="#000" stroke-width="0.75" stroke-opacity="0.65"/>
<line x1="166.8" y1="499.1" x2="166.8" y2="520.4" stroke="#000" stroke-width="1.1" stroke-opacity="0.85"/>
<line x1="175.5" y1="499.1" x2="175.5" y2="520.4" stroke="#000" stroke-width="0.75" stroke-opacity="0.78"/>
<line x1="176.8" y1="499.1" x2="176.8" y2="520.4" stroke="#000" stroke-width="0.75" stroke-opacity="0.78"/>
<line x1="177.8" y1="499.1" x2="177.8" y2="520.4" stroke="#000" stroke-width="0.75" stroke-opacity="0.65"/>
<line x1="180.2" y1="499.1" x2="180.2" y2="520.4" stroke="#000" stroke-width="0.75" stroke-opacity="0.72"/>
<line x1="185.7" y1="499.1" x2="185.7" y2="520.4" stroke="#000" stroke-width="0.75" stroke-opacity="0.78"/>
<line x1="187.2" y1="499.1" x2="187.2" y2="520.4" stroke="#000" stroke-width="0.75" stroke-opacity="0.78"/>
<line x1="188.8" y1="499.1" x2="188.8" y2="520.4" stroke="#000" stroke-width="0.75" stroke-opacity="0.72"/>
<line x1="191.4" y1="499.1" x2="191.4" y2="520.4" stroke="#000" stroke-width="0.75" stroke-opacity="0.65"/>
<line x1="197.5" y1="499.1" x2="197.5" y2="520.4" stroke="#000" stroke-width="0.75" stroke-opacity="0.65"/>
<line x1="200.6" y1="499.1" x2="200.6" y2="520.4" stroke="#000" stroke-width="0.75" stroke-opacity="0.45"/>
<line x1="202.2" y1="499.1" x2="202.2" y2="520.4" stroke="#000" stroke-width="0.75" stroke-opacity="0.52"/>
<line x1="203.7" y1="499.1" x2="203.7" y2="520.4" stroke="#000" stroke-width="0.75" stroke-opacity="0.52"/>
<line x1="205.2" y1="499.1" x2="205.2" y2="520.4" stroke="#000" stroke-width="0.75" stroke-opacity="0.45"/>
<line x1="212.2" y1="499.1" x2="212.2" y2="520.4" stroke="#000" stroke-width="0.75" stroke-opacity="0.91"/>
<line x1="213.4" y1="499.1" x2="213.4" y2="520.4" stroke="#000" stroke-width="0.75" stroke-opacity="0.91"/>
<line x1="214.9" y1="499.1" x2="214.9" y2="520.4" stroke="#000" stroke-width="0.75" stroke-opacity="0.91"/>
<line x1="216" y1="499.1" x2="216" y2="520.4" stroke="#000" stroke-width="0.75" stroke-opacity="0.78"/>
<rect x="79.5" y="520.4" width="18.2" height="4.6" fill="#d23a3a"/>
<rect x="97.7" y="520.4" width="8.3" height="4.6" fill="#d75560"/>
<rect x="106" y="520.4" width="11" height="4.6" fill="#dd767c"/>
<rect x="117" y="520.4" width="17" height="4.6" fill="#ebb4cd"/>
<rect x="134" y="520.4" width="12" height="4.6" fill="#cfcff0"/>
<rect x="146" y="520.4" width="12" height="4.6" fill="#c9c5ec"/>
<rect x="158" y="520.4" width="12.8" height="4.6" fill="#bdb6e6"/>
<rect x="170.8" y="520.4" width="10.2" height="4.6" fill="#7f7cc6"/>
<rect x="181" y="520.4" width="24" height="4.6" fill="#5a55ad"/>
<rect x="205" y="520.4" width="11.8" height="4.6" fill="#3d3a9d"/>
<polygon points="79.8,542.4 79.8,531.5 80.6,534 81.5,536.2 83.8,538.8 88.5,540.4 97.7,541.5 116.2,542.1 129.5,542.2 150,543.6 165,544.9 180.8,546.6 196.2,548.8 208.5,551.6 213.1,554.2 215.4,558 216.4,564.2 216.7,565.8 216.7,542.4" fill="#c4c4c4"/>
<line x1="129.6" y1="526" x2="129.6" y2="566.6" stroke="#bbb" stroke-width="0.5" stroke-dasharray="0.8 0.8"/>
<polyline points="79.6,439.9 83.5,443.2 84.6,442.4 92.6,447.4 94,446.3 100.8,451 111.5,456.2 131.5,468.5 146.9,478.3 150,480.5 159.2,487 165.4,492.8 167.2,490.8 175.4,496.2 177.7,492.3 178.9,493.4 180.8,490.5 185.1,493.8 186.9,489.2 188.5,490 189.7,486.9 190.8,487.7 191.8,485.7 196.9,489.7 198.5,483.8 200,484.6 201.5,481.5 202.6,482.3 203.8,478.9 204.6,479.5 205.7,475.8 211.8,480.8 213.1,466.9 214.6,459.2 215.8,453.1 216.5,439.6" fill="none" stroke="#4f9d2d" stroke-width="1.15" stroke-linejoin="round"/>
<rect x="79.3" y="437" width="144.7" height="129.6" fill="none" stroke="#000" stroke-width="1.2"/>
<line x1="74.7" y1="439.9" x2="79.3" y2="439.9" stroke="#000" stroke-width="0.9"/>
<text x="72.3" y="442.03" font-size="7" text-anchor="end" textLength="10.9" lengthAdjust="spacingAndGlyphs" stroke="#111" stroke-width="0.16">0.0</text>
<line x1="74.7" y1="449.75" x2="79.3" y2="449.75" stroke="#000" stroke-width="0.9"/>
<text x="72.3" y="451.88" font-size="7" text-anchor="end" textLength="13.51" lengthAdjust="spacingAndGlyphs" stroke="#111" stroke-width="0.16">-0.1</text>
<line x1="74.7" y1="459.6" x2="79.3" y2="459.6" stroke="#000" stroke-width="0.9"/>
<text x="72.3" y="461.73" font-size="7" text-anchor="end" textLength="13.51" lengthAdjust="spacingAndGlyphs" stroke="#111" stroke-width="0.16">-0.2</text>
<line x1="74.7" y1="469.45" x2="79.3" y2="469.45" stroke="#000" stroke-width="0.9"/>
<text x="72.3" y="471.58" font-size="7" text-anchor="end" textLength="13.51" lengthAdjust="spacingAndGlyphs" stroke="#111" stroke-width="0.16">-0.3</text>
<line x1="74.7" y1="479.3" x2="79.3" y2="479.3" stroke="#000" stroke-width="0.9"/>
<text x="72.3" y="481.43" font-size="7" text-anchor="end" textLength="13.51" lengthAdjust="spacingAndGlyphs" stroke="#111" stroke-width="0.16">-0.4</text>
<line x1="74.7" y1="489.15" x2="79.3" y2="489.15" stroke="#000" stroke-width="0.9"/>
<text x="72.3" y="491.28" font-size="7" text-anchor="end" textLength="13.51" lengthAdjust="spacingAndGlyphs" stroke="#111" stroke-width="0.16">-0.5</text>
<line x1="74.7" y1="499" x2="79.3" y2="499" stroke="#000" stroke-width="0.9"/>
<text x="72.3" y="501.13" font-size="7" text-anchor="end" textLength="13.51" lengthAdjust="spacingAndGlyphs" stroke="#111" stroke-width="0.16">-0.6</text>
<line x1="74.7" y1="531.7" x2="79.3" y2="531.7" stroke="#000" stroke-width="0.9"/>
<text x="72.3" y="533.83" font-size="7" text-anchor="end" textLength="10.9" lengthAdjust="spacingAndGlyphs" stroke="#111" stroke-width="0.16">0.5</text>
<line x1="74.7" y1="542.3" x2="79.3" y2="542.3" stroke="#000" stroke-width="0.9"/>
<text x="72.3" y="544.43" font-size="7" text-anchor="end" textLength="10.9" lengthAdjust="spacingAndGlyphs" stroke="#111" stroke-width="0.16">0.0</text>
<line x1="74.7" y1="553.1" x2="79.3" y2="553.1" stroke="#000" stroke-width="0.9"/>
<text x="72.3" y="555.23" font-size="7" text-anchor="end" textLength="13.51" lengthAdjust="spacingAndGlyphs" stroke="#111" stroke-width="0.16">-0.5</text>
<line x1="74.7" y1="563.5" x2="79.3" y2="563.5" stroke="#000" stroke-width="0.9"/>
<text x="72.3" y="565.63" font-size="7" text-anchor="end" textLength="13.51" lengthAdjust="spacingAndGlyphs" stroke="#111" stroke-width="0.16">-1.0</text>
<line x1="79.5" y1="566.6" x2="79.5" y2="569.8" stroke="#000" stroke-width="0.9"/>
<text x="79.5" y="579.88" font-size="7" text-anchor="middle" textLength="4.2" lengthAdjust="spacingAndGlyphs" stroke="#111" stroke-width="0.16">0</text>
<line x1="113.3" y1="566.6" x2="113.3" y2="569.8" stroke="#000" stroke-width="0.9"/>
<text x="113.3" y="579.88" font-size="7" text-anchor="middle" textLength="18.92" lengthAdjust="spacingAndGlyphs" stroke="#111" stroke-width="0.16">5,000</text>
<line x1="147" y1="566.6" x2="147" y2="569.8" stroke="#000" stroke-width="0.9"/>
<text x="147" y="579.88" font-size="7" text-anchor="middle" textLength="23.12" lengthAdjust="spacingAndGlyphs" stroke="#111" stroke-width="0.16">10,000</text>
<line x1="180.8" y1="566.6" x2="180.8" y2="569.8" stroke="#000" stroke-width="0.9"/>
<text x="180.8" y="579.88" font-size="7" text-anchor="middle" textLength="23.12" lengthAdjust="spacingAndGlyphs" stroke="#111" stroke-width="0.16">15,000</text>
<line x1="214.6" y1="566.6" x2="214.6" y2="569.8" stroke="#000" stroke-width="0.9"/>
<text x="214.6" y="579.88" font-size="7" text-anchor="middle" textLength="23.12" lengthAdjust="spacingAndGlyphs" stroke="#111" stroke-width="0.16">20,000</text>
<text x="101.4" y="430.5" font-size="9" textLength="101.1" lengthAdjust="spacingAndGlyphs" stroke="#111" stroke-width="0.16">Enrichment plot: ISG.RS</text>
<text transform="translate(53,507.3) rotate(-90)" font-size="8.6" textLength="76.5" lengthAdjust="spacingAndGlyphs" stroke="#111" stroke-width="0.16">Enrichment score (ES)</text>
<text transform="translate(41.4,578.1) rotate(-90)" font-size="8.8" textLength="61.5" lengthAdjust="spacingAndGlyphs" stroke="#111" stroke-width="0.16">Ranked list metric</text>
<text transform="translate(53.6,573.4) rotate(-90)" font-size="8.8" textLength="52" lengthAdjust="spacingAndGlyphs" stroke="#111" stroke-width="0.16">(Signal2Noise)</text>
<text x="109.4" y="594.3" font-size="9.6" textLength="84.3" lengthAdjust="spacingAndGlyphs" stroke="#111" stroke-width="0.16">Rank in Ordered Dataset</text>
<rect x="44.3" y="600" width="214.1" height="15.2" fill="#fff" stroke="#000" stroke-width="1.1"/>
<line x1="52.6" y1="607.6" x2="57.7" y2="607.6" stroke="#4f9d2d" stroke-width="1"/>
<text x="61.8" y="610.25" font-size="7.7" textLength="61.2" lengthAdjust="spacingAndGlyphs" stroke="#111" stroke-width="0.16">Enrichment profile</text>
<line x1="131.5" y1="607.6" x2="136.5" y2="607.6" stroke="#555" stroke-width="0.9"/>
<text x="139.6" y="610.25" font-size="7.7" textLength="13.1" lengthAdjust="spacingAndGlyphs" stroke="#111" stroke-width="0.16">Hits</text>
<line x1="160.8" y1="607.6" x2="172.3" y2="607.6" stroke="#e4e4e4" stroke-width="0.9"/>
<text x="176.9" y="610.25" font-size="7.7" textLength="73.4" lengthAdjust="spacingAndGlyphs" stroke="#111" stroke-width="0.16">Ranking metric scores</text>
<text x="96.5" y="539.6" font-size="8" textLength="10.1" lengthAdjust="spacingAndGlyphs" fill="#b8243c" stroke="#b8243c" stroke-width="0.16">DR</text>
<text x="192.8" y="562" font-size="8" textLength="16" lengthAdjust="spacingAndGlyphs" fill="#35458c" stroke="#35458c" stroke-width="0.16">NDR</text>
<text x="80.8" y="529" font-size="3.2" textLength="40" lengthAdjust="spacingAndGlyphs" fill="#d04848">'DR' (positively correlated)</text>
<text x="115" y="547.2" font-size="3.2" textLength="29" lengthAdjust="spacingAndGlyphs" font-style="italic" fill="#555">Zero cross at 7461</text>
<text x="152" y="564.8" font-size="3.2" textLength="43" lengthAdjust="spacingAndGlyphs" fill="#4a55a8">'NDR' (negatively correlated)</text>
<line x1="368.8" y1="439.5" x2="368.8" y2="566.4" stroke="#f0f0f0" stroke-width="0.6"/>
<line x1="401.4" y1="439.5" x2="401.4" y2="566.4" stroke="#f0f0f0" stroke-width="0.6"/>
<line x1="434" y1="439.5" x2="434" y2="566.4" stroke="#f0f0f0" stroke-width="0.6"/>
<line x1="466.6" y1="439.5" x2="466.6" y2="566.4" stroke="#f0f0f0" stroke-width="0.6"/>
<line x1="336.2" y1="445.1" x2="474.7" y2="445.1" stroke="#efefef" stroke-width="0.6"/>
<line x1="336.2" y1="453.1" x2="474.7" y2="453.1" stroke="#efefef" stroke-width="0.6"/>
<line x1="336.2" y1="461.1" x2="474.7" y2="461.1" stroke="#efefef" stroke-width="0.6"/>
<line x1="336.2" y1="469.1" x2="474.7" y2="469.1" stroke="#efefef" stroke-width="0.6"/>
<line x1="336.2" y1="477.1" x2="474.7" y2="477.1" stroke="#d9d9d9" stroke-width="0.6"/>
<line x1="336.2" y1="485.1" x2="474.7" y2="485.1" stroke="#efefef" stroke-width="0.6"/>
<line x1="336.2" y1="493.1" x2="474.7" y2="493.1" stroke="#efefef" stroke-width="0.6"/>
<line x1="336.2" y1="532.2" x2="474.7" y2="532.2" stroke="#efefef" stroke-width="0.6"/>
<line x1="336.2" y1="542.6" x2="474.7" y2="542.6" stroke="#efefef" stroke-width="0.6"/>
<line x1="336.2" y1="553.4" x2="474.7" y2="553.4" stroke="#efefef" stroke-width="0.6"/>
<line x1="336.2" y1="563.5" x2="474.7" y2="563.5" stroke="#efefef" stroke-width="0.6"/>
<line x1="336.2" y1="501.4" x2="474.7" y2="501.4" stroke="#d8d8d8" stroke-width="0.7"/>
<line x1="336.2" y1="525.9" x2="474.7" y2="525.9" stroke="#e6e6e6" stroke-width="0.6"/>
<rect x="336.6" y="501.7" width="7.4" height="19.1" fill="#000" fill-opacity="0.78"/>
<line x1="337.64" y1="501.7" x2="337.64" y2="520.8" stroke="#fff" stroke-width="0.55" stroke-opacity="0.69"/>
<line x1="339.68" y1="501.7" x2="339.68" y2="520.8" stroke="#fff" stroke-width="0.7" stroke-opacity="0.66"/>
<line x1="341.03" y1="501.7" x2="341.03" y2="520.8" stroke="#fff" stroke-width="0.55" stroke-opacity="0.46"/>
<line x1="342.54" y1="501.7" x2="342.54" y2="520.8" stroke="#fff" stroke-width="0.7" stroke-opacity="0.56"/>
<rect x="345.1" y="501.7" width="2" height="19.1" fill="#000" fill-opacity="0.78"/>
<rect x="347.8" y="501.7" width="2.4" height="19.1" fill="#000" fill-opacity="0.73"/>
<line x1="348.99" y1="501.7" x2="348.99" y2="520.8" stroke="#fff" stroke-width="0.45" stroke-opacity="0.74"/>
<rect x="351.2" y="501.7" width="3.9" height="19.1" fill="#000" fill-opacity="0.83"/>
<line x1="352.19" y1="501.7" x2="352.19" y2="520.8" stroke="#fff" stroke-width="0.55" stroke-opacity="0.87"/>
<line x1="354.08" y1="501.7" x2="354.08" y2="520.8" stroke="#fff" stroke-width="0.45" stroke-opacity="0.75"/>
<rect x="356.3" y="501.7" width="1.1" height="19.1" fill="#000" fill-opacity="0.68"/>
<rect x="358.5" y="501.7" width="2.7" height="19.1" fill="#000" fill-opacity="0.78"/>
<line x1="359.43" y1="501.7" x2="359.43" y2="520.8" stroke="#fff" stroke-width="0.55" stroke-opacity="0.8"/>
<rect x="362.8" y="501.7" width="2.3" height="19.1" fill="#000" fill-opacity="0.73"/>
<line x1="364.13" y1="501.7" x2="364.13" y2="520.8" stroke="#fff" stroke-width="0.7" stroke-opacity="0.85"/>
<rect x="366.6" y="501.7" width="3.9" height="19.1" fill="#000" fill-opacity="0.88"/>
<line x1="367.76" y1="501.7" x2="367.76" y2="520.8" stroke="#fff" stroke-width="0.7" stroke-opacity="0.78"/>
<line x1="369.41" y1="501.7" x2="369.41" y2="520.8" stroke="#fff" stroke-width="0.55" stroke-opacity="0.87"/>
<rect x="372" y="501.7" width="12.3" height="19.1" fill="#000" fill-opacity="0.8"/>
<line x1="372.98" y1="501.7" x2="372.98" y2="520.8" stroke="#fff" stroke-width="0.7" stroke-opacity="0.55"/>
<line x1="374.63" y1="501.7" x2="374.63" y2="520.8" stroke="#fff" stroke-width="0.55" stroke-opacity="0.73"/>
<line x1="376.27" y1="501.7" x2="376.27" y2="520.8" stroke="#fff" stroke-width="0.7" stroke-opacity="0.83"/>
<line x1="377.85" y1="501.7" x2="377.85" y2="520.8" stroke="#fff" stroke-width="0.7" stroke-opacity="0.71"/>
<line x1="379.33" y1="501.7" x2="379.33" y2="520.8" stroke="#fff" stroke-width="0.45" stroke-opacity="0.6"/>
<line x1="381.32" y1="501.7" x2="381.32" y2="520.8" stroke="#fff" stroke-width="0.7" stroke-opacity="0.9"/>
<line x1="383.18" y1="501.7" x2="383.18" y2="520.8" stroke="#fff" stroke-width="0.55" stroke-opacity="0.76"/>
<rect x="388.2" y="501.7" width="2" height="19.1" fill="#000" fill-opacity="0.73"/>
<rect x="392" y="501.7" width="3.1" height="19.1" fill="#000" fill-opacity="0.95"/>
<line x1="393.24" y1="501.7" x2="393.24" y2="520.8" stroke="#fff" stroke-width="0.45" stroke-opacity="0.77"/>
<rect x="396.3" y="501.7" width="3.4" height="19.1" fill="#000" fill-opacity="0.78"/>
<line x1="397.79" y1="501.7" x2="397.79" y2="520.8" stroke="#fff" stroke-width="0.45" stroke-opacity="0.57"/>
<rect x="401.6" y="501.7" width="0.4" height="19.1" fill="#000" fill-opacity="0.68"/>
<line x1="404.2" y1="501.7" x2="404.2" y2="520.8" stroke="#000" stroke-width="0.7" stroke-opacity="0.58"/>
<line x1="405.4" y1="501.7" x2="405.4" y2="520.8" stroke="#000" stroke-width="0.7" stroke-opacity="0.47"/>
<line x1="406.6" y1="501.7" x2="406.6" y2="520.8" stroke="#000" stroke-width="0.7" stroke-opacity="0.48"/>
<rect x="407.7" y="501.7" width="4.6" height="19.1" fill="#000" fill-opacity="0.83"/>
<line x1="408.61" y1="501.7" x2="408.61" y2="520.8" stroke="#fff" stroke-width="0.55" stroke-opacity="0.64"/>
<line x1="410.61" y1="501.7" x2="410.61" y2="520.8" stroke="#fff" stroke-width="0.7" stroke-opacity="0.47"/>
<rect x="414.6" y="501.7" width="1.6" height="19.1" fill="#000" fill-opacity="0.83"/>
<rect x="416.6" y="501.7" width="3.4" height="19.1" fill="#000" fill-opacity="0.88"/>
<line x1="417.85" y1="501.7" x2="417.85" y2="520.8" stroke="#fff" stroke-width="0.55" stroke-opacity="0.7"/>
<rect x="422.3" y="501.7" width="2.3" height="19.1" fill="#000" fill-opacity="0.95"/>
<line x1="423.8" y1="501.7" x2="423.8" y2="520.8" stroke="#fff" stroke-width="0.45" stroke-opacity="0.59"/>
<rect x="426.9" y="501.7" width="1.6" height="19.1" fill="#000" fill-opacity="0.83"/>
<rect x="430.8" y="501.7" width="7.7" height="19.1" fill="#000" fill-opacity="0.7"/>
<line x1="432.27" y1="501.7" x2="432.27" y2="520.8" stroke="#fff" stroke-width="0.55" stroke-opacity="0.89"/>
<line x1="434.06" y1="501.7" x2="434.06" y2="520.8" stroke="#fff" stroke-width="0.45" stroke-opacity="0.52"/>
<line x1="436.14" y1="501.7" x2="436.14" y2="520.8" stroke="#fff" stroke-width="0.55" stroke-opacity="0.6"/>
<rect x="439.2" y="501.7" width="3.9" height="19.1" fill="#000" fill-opacity="0.68"/>
<line x1="440.64" y1="501.7" x2="440.64" y2="520.8" stroke="#fff" stroke-width="0.55" stroke-opacity="0.62"/>
<rect x="443.8" y="501.7" width="2.4" height="19.1" fill="#000" fill-opacity="0.73"/>
<line x1="444.93" y1="501.7" x2="444.93" y2="520.8" stroke="#fff" stroke-width="0.7" stroke-opacity="0.84"/>
<line x1="447.9" y1="501.7" x2="447.9" y2="520.8" stroke="#000" stroke-width="0.7" stroke-opacity="0.34"/>
<line x1="451.2" y1="501.7" x2="451.2" y2="520.8" stroke="#000" stroke-width="0.7" stroke-opacity="0.4"/>
<line x1="453.5" y1="501.7" x2="453.5" y2="520.8" stroke="#000" stroke-width="0.7" stroke-opacity="0.48"/>
<line x1="454.7" y1="501.7" x2="454.7" y2="520.8" stroke="#000" stroke-width="0.7" stroke-opacity="0.51"/>
<line x1="461.9" y1="501.7" x2="461.9" y2="520.8" stroke="#000" stroke-width="0.7" stroke-opacity="0.65"/>
<line x1="463.7" y1="501.7" x2="463.7" y2="520.8" stroke="#000" stroke-width="0.7" stroke-opacity="0.51"/>
<line x1="465.2" y1="501.7" x2="465.2" y2="520.8" stroke="#000" stroke-width="0.7" stroke-opacity="0.45"/>
<line x1="466.7" y1="501.7" x2="466.7" y2="520.8" stroke="#000" stroke-width="0.7" stroke-opacity="0.65"/>
<rect x="336.6" y="520.8" width="16.2" height="4.9" fill="#d23a3a"/>
<rect x="352.8" y="520.8" width="9.2" height="4.9" fill="#d4454c"/>
<rect x="362" y="520.8" width="10" height="4.9" fill="#dc6a72"/>
<rect x="372" y="520.8" width="16.2" height="4.9" fill="#ebb4cd"/>
<rect x="388.2" y="520.8" width="11.8" height="4.9" fill="#cfcff0"/>
<rect x="400" y="520.8" width="12" height="4.9" fill="#c9c5ec"/>
<rect x="412" y="520.8" width="11.8" height="4.9" fill="#bdb6e6"/>
<rect x="423.8" y="520.8" width="10" height="4.9" fill="#7f7cc6"/>
<rect x="433.8" y="520.8" width="23.1" height="4.9" fill="#5f58b0"/>
<rect x="456.9" y="520.8" width="10.8" height="4.9" fill="#3d3a9d"/>
<polygon points="336.7,542.7 336.7,531.8 337.4,534.2 338.3,536.4 340.5,539 345,540.6 354,541.7 372,542.3 384.6,542.5 404,543.9 419,545.2 434,546.9 449,549.1 460.6,551.9 464.6,554.5 466.6,558.3 467.4,564 467.6,565.6 467.6,542.7" fill="#c4c4c4"/>
<line x1="384.7" y1="526.7" x2="384.7" y2="566.4" stroke="#bbb" stroke-width="0.5" stroke-dasharray="0.8 0.8"/>
<polyline points="336.7,469.5 336.9,468.9 337.7,462.8 338.5,457.4 340,452.8 341.5,449.7 343.8,446.6 345.4,447.4 346.9,445.5 349.2,444.6 351.5,443.2 353.1,444 354.9,443.1 356.9,444.8 359.2,445.1 362.3,447.4 365.4,450.2 368.5,453.2 371.5,455.1 373.8,456.2 377.7,459.7 382.3,465.1 388.5,472.8 394.6,479.7 400.8,485.8 404.6,489.7 409.2,493.5 411.1,492.3 413.8,493.5 416.9,495.8 419.2,495.1 421.5,497.4 424.6,493.2 426.2,494.3 428,493.2 430,495.1 431.5,493.5 433.1,494.3 435.4,491.2 436.9,492 438.5,490.2 440,490.9 441.8,489.2 443.8,489.7 445.4,488.2 447.2,483.2 449.2,485.8 450.8,486.6 452.3,485.1 453.8,486.2 455.4,485.1 458.5,488.9 461.8,492.3 463.8,485.8 465.8,480.5 467.4,476.3" fill="none" stroke="#4f9d2d" stroke-width="1.15" stroke-linejoin="round"/>
<rect x="336.2" y="439.5" width="138.5" height="126.9" fill="none" stroke="#000" stroke-width="1.2"/>
<line x1="331.6" y1="445.1" x2="336.2" y2="445.1" stroke="#000" stroke-width="0.9"/>
<text x="329.2" y="447.23" font-size="7" text-anchor="end" textLength="15.26" lengthAdjust="spacingAndGlyphs" stroke="#111" stroke-width="0.16">0.20</text>
<line x1="331.6" y1="453.1" x2="336.2" y2="453.1" stroke="#000" stroke-width="0.9"/>
<text x="329.2" y="455.23" font-size="7" text-anchor="end" textLength="15.26" lengthAdjust="spacingAndGlyphs" stroke="#111" stroke-width="0.16">0.15</text>
<line x1="331.6" y1="461.1" x2="336.2" y2="461.1" stroke="#000" stroke-width="0.9"/>
<text x="329.2" y="463.23" font-size="7" text-anchor="end" textLength="15.26" lengthAdjust="spacingAndGlyphs" stroke="#111" stroke-width="0.16">0.10</text>
<line x1="331.6" y1="469.1" x2="336.2" y2="469.1" stroke="#000" stroke-width="0.9"/>
<text x="329.2" y="471.23" font-size="7" text-anchor="end" textLength="15.26" lengthAdjust="spacingAndGlyphs" stroke="#111" stroke-width="0.16">0.05</text>
<line x1="331.6" y1="477.1" x2="336.2" y2="477.1" stroke="#000" stroke-width="0.9"/>
<text x="329.2" y="479.23" font-size="7" text-anchor="end" textLength="15.26" lengthAdjust="spacingAndGlyphs" stroke="#111" stroke-width="0.16">0.00</text>
<line x1="331.6" y1="485.1" x2="336.2" y2="485.1" stroke="#000" stroke-width="0.9"/>
<text x="329.2" y="487.23" font-size="7" text-anchor="end" textLength="17.87" lengthAdjust="spacingAndGlyphs" stroke="#111" stroke-width="0.16">-0.05</text>
<line x1="331.6" y1="493.1" x2="336.2" y2="493.1" stroke="#000" stroke-width="0.9"/>
<text x="329.2" y="495.23" font-size="7" text-anchor="end" textLength="17.87" lengthAdjust="spacingAndGlyphs" stroke="#111" stroke-width="0.16">-0.10</text>
<line x1="331.6" y1="532.2" x2="336.2" y2="532.2" stroke="#000" stroke-width="0.9"/>
<text x="329.2" y="534.33" font-size="7" text-anchor="end" textLength="10.9" lengthAdjust="spacingAndGlyphs" stroke="#111" stroke-width="0.16">0.5</text>
<line x1="331.6" y1="542.6" x2="336.2" y2="542.6" stroke="#000" stroke-width="0.9"/>
<text x="329.2" y="544.73" font-size="7" text-anchor="end" textLength="10.9" lengthAdjust="spacingAndGlyphs" stroke="#111" stroke-width="0.16">0.0</text>
<line x1="331.6" y1="553.4" x2="336.2" y2="553.4" stroke="#000" stroke-width="0.9"/>
<text x="329.2" y="555.53" font-size="7" text-anchor="end" textLength="13.51" lengthAdjust="spacingAndGlyphs" stroke="#111" stroke-width="0.16">-0.5</text>
<line x1="331.6" y1="563.5" x2="336.2" y2="563.5" stroke="#000" stroke-width="0.9"/>
<text x="329.2" y="565.63" font-size="7" text-anchor="end" textLength="13.51" lengthAdjust="spacingAndGlyphs" stroke="#111" stroke-width="0.16">-1.0</text>
<line x1="336.2" y1="566.4" x2="336.2" y2="569.6" stroke="#000" stroke-width="0.9"/>
<text x="336.2" y="579.68" font-size="7" text-anchor="middle" textLength="4.2" lengthAdjust="spacingAndGlyphs" stroke="#111" stroke-width="0.16">0</text>
<line x1="368.8" y1="566.4" x2="368.8" y2="569.6" stroke="#000" stroke-width="0.9"/>
<text x="368.8" y="579.68" font-size="7" text-anchor="middle" textLength="18.92" lengthAdjust="spacingAndGlyphs" stroke="#111" stroke-width="0.16">5,000</text>
<line x1="401.4" y1="566.4" x2="401.4" y2="569.6" stroke="#000" stroke-width="0.9"/>
<text x="401.4" y="579.68" font-size="7" text-anchor="middle" textLength="23.12" lengthAdjust="spacingAndGlyphs" stroke="#111" stroke-width="0.16">10,000</text>
<line x1="434" y1="566.4" x2="434" y2="569.6" stroke="#000" stroke-width="0.9"/>
<text x="434" y="579.68" font-size="7" text-anchor="middle" textLength="23.12" lengthAdjust="spacingAndGlyphs" stroke="#111" stroke-width="0.16">15,000</text>
<line x1="466.6" y1="566.4" x2="466.6" y2="569.6" stroke="#000" stroke-width="0.9"/>
<text x="466.6" y="579.68" font-size="7" text-anchor="middle" textLength="23.12" lengthAdjust="spacingAndGlyphs" stroke="#111" stroke-width="0.16">20,000</text>
<text x="351.3" y="434.3" font-size="9" textLength="108.7" lengthAdjust="spacingAndGlyphs" stroke="#111" stroke-width="0.16">Enrichment plot: IFNG.GS</text>
<text transform="translate(306,507) rotate(-90)" font-size="8.6" textLength="75.8" lengthAdjust="spacingAndGlyphs" stroke="#111" stroke-width="0.16">Enrichment score (ES)</text>
<text transform="translate(297.7,579) rotate(-90)" font-size="8.8" textLength="62" lengthAdjust="spacingAndGlyphs" stroke="#111" stroke-width="0.16">Ranked list metric</text>
<text transform="translate(310.7,573.8) rotate(-90)" font-size="8.8" textLength="51.8" lengthAdjust="spacingAndGlyphs" stroke="#111" stroke-width="0.16">(Signal2Noise)</text>
<text x="363.5" y="593.9" font-size="9.6" textLength="84.5" lengthAdjust="spacingAndGlyphs" stroke="#111" stroke-width="0.16">Rank in Ordered Dataset</text>
<rect x="298.8" y="599.8" width="213.8" height="15.5" fill="#fff" stroke="#000" stroke-width="1.1"/>
<line x1="307.3" y1="607.55" x2="311.9" y2="607.55" stroke="#4f9d2d" stroke-width="1"/>
<text x="315.8" y="610.2" font-size="7.7" textLength="61.4" lengthAdjust="spacingAndGlyphs" stroke="#111" stroke-width="0.16">Enrichment profile</text>
<line x1="385.8" y1="607.55" x2="390.4" y2="607.55" stroke="#555" stroke-width="0.9"/>
<text x="393.9" y="610.2" font-size="7.7" textLength="13" lengthAdjust="spacingAndGlyphs" stroke="#111" stroke-width="0.16">Hits</text>
<line x1="414.3" y1="607.55" x2="426.5" y2="607.55" stroke="#e4e4e4" stroke-width="0.9"/>
<text x="431.2" y="610.2" font-size="7.7" textLength="72.7" lengthAdjust="spacingAndGlyphs" stroke="#111" stroke-width="0.16">Ranking metric scores</text>
<text x="348" y="540.6" font-size="8" textLength="9.3" lengthAdjust="spacingAndGlyphs" fill="#b8243c" stroke="#b8243c" stroke-width="0.16">DR</text>
<text x="443.5" y="563" font-size="8" textLength="16" lengthAdjust="spacingAndGlyphs" fill="#35458c" stroke="#35458c" stroke-width="0.16">NDR</text>
<text x="337.6" y="529.4" font-size="3.2" textLength="39.5" lengthAdjust="spacingAndGlyphs" fill="#d04848">'DR' (positively correlated)</text>
<text x="370.2" y="547.2" font-size="3.2" textLength="28.6" lengthAdjust="spacingAndGlyphs" font-style="italic" fill="#555">Zero cross at 7461</text>
<text x="405" y="564.6" font-size="3.2" textLength="42" lengthAdjust="spacingAndGlyphs" fill="#4a55a8">'NDR' (negatively correlated)</text>
<text x="63.8" y="653.2" font-size="10.5" textLength="67.3" lengthAdjust="spacingAndGlyphs" stroke="#111" stroke-width="0.16">Macrophages</text>
<text transform="translate(17.1,738.6) rotate(-90)" font-size="11" textLength="71.8" lengthAdjust="spacingAndGlyphs" stroke="#111" stroke-width="0.16">Macrophage score</text>
<line x1="51.4" y1="660.2" x2="51.4" y2="745.3" stroke="#000" stroke-width="1.2"/>
<line x1="50.8" y1="744.7" x2="142.6" y2="744.7" stroke="#000" stroke-width="1.2"/>
<line x1="47.8" y1="663.1" x2="51.4" y2="663.1" stroke="#000" stroke-width="1.1"/>
<text x="45.3" y="666.29" font-size="9" text-anchor="end" textLength="21.42" lengthAdjust="spacingAndGlyphs" stroke="#111" stroke-width="0.16">5000</text>
<line x1="47.8" y1="679.42" x2="51.4" y2="679.42" stroke="#000" stroke-width="1.1"/>
<text x="45.3" y="682.61" font-size="9" text-anchor="end" textLength="21.42" lengthAdjust="spacingAndGlyphs" stroke="#111" stroke-width="0.16">4000</text>
<line x1="47.8" y1="695.74" x2="51.4" y2="695.74" stroke="#000" stroke-width="1.1"/>
<text x="45.3" y="698.93" font-size="9" text-anchor="end" textLength="21.42" lengthAdjust="spacingAndGlyphs" stroke="#111" stroke-width="0.16">3000</text>
<line x1="47.8" y1="712.06" x2="51.4" y2="712.06" stroke="#000" stroke-width="1.1"/>
<text x="45.3" y="715.25" font-size="9" text-anchor="end" textLength="21.42" lengthAdjust="spacingAndGlyphs" stroke="#111" stroke-width="0.16">2000</text>
<line x1="47.8" y1="728.38" x2="51.4" y2="728.38" stroke="#000" stroke-width="1.1"/>
<text x="45.3" y="731.57" font-size="9" text-anchor="end" textLength="21.42" lengthAdjust="spacingAndGlyphs" stroke="#111" stroke-width="0.16">1000</text>
<line x1="47.8" y1="744.7" x2="51.4" y2="744.7" stroke="#000" stroke-width="1.1"/>
<text x="45.3" y="747.89" font-size="9" text-anchor="end" textLength="5.36" lengthAdjust="spacingAndGlyphs" stroke="#111" stroke-width="0.16">0</text>
<line x1="77.7" y1="744.7" x2="77.7" y2="748" stroke="#000" stroke-width="1.1"/>
<rect x="65" y="731" width="25.8" height="10.4" fill="#2b4c8c"/>
<line x1="77.7" y1="716" x2="77.7" y2="731" stroke="#000" stroke-width="1.1"/>
<line x1="77.7" y1="741.4" x2="77.7" y2="744.7" stroke="#000" stroke-width="1.1"/>
<line x1="71.7" y1="716" x2="83.8" y2="716" stroke="#000" stroke-width="1.1"/>
<line x1="65" y1="736.3" x2="90.8" y2="736.3" stroke="#000" stroke-width="1"/>
<circle cx="77.66" cy="716" r="1.8" fill="#000"/>
<circle cx="73.85" cy="725.52" r="1.8" fill="#000"/>
<circle cx="80.83" cy="727" r="1.8" fill="#000"/>
<circle cx="71.31" cy="731.02" r="1.8" fill="#000"/>
<circle cx="74.91" cy="731.87" r="1.8" fill="#000"/>
<circle cx="66.87" cy="736.31" r="1.8" fill="#000"/>
<circle cx="71.73" cy="736.31" r="1.8" fill="#000"/>
<circle cx="77.66" cy="735.68" r="1.8" fill="#000"/>
<circle cx="83.37" cy="734.62" r="1.8" fill="#000"/>
<circle cx="88.66" cy="736.31" r="1.8" fill="#000"/>
<circle cx="66.87" cy="739.91" r="1.8" fill="#000"/>
<circle cx="72.79" cy="740.97" r="1.8" fill="#000"/>
<circle cx="78.08" cy="741.39" r="1.8" fill="#000"/>
<circle cx="83.37" cy="742.45" r="1.8" fill="#000"/>
<circle cx="89.08" cy="739.91" r="1.8" fill="#000"/>
<circle cx="66.44" cy="743.72" r="1.8" fill="#000"/>
<circle cx="77.66" cy="744.14" r="1.8" fill="#000"/>
<circle cx="83.37" cy="744.14" r="1.8" fill="#000"/>
<circle cx="89.08" cy="744.56" r="1.8" fill="#000"/>
<text x="77.7" y="759.9" font-size="9.8" text-anchor="middle" textLength="12.4" lengthAdjust="spacingAndGlyphs" stroke="#111" stroke-width="0.16">DR</text>
<line x1="116.6" y1="744.7" x2="116.6" y2="748" stroke="#000" stroke-width="1.1"/>
<rect x="103.5" y="705.4" width="25.8" height="28.6" fill="#a9112f"/>
<line x1="116.6" y1="680" x2="116.6" y2="705.4" stroke="#000" stroke-width="1.1"/>
<line x1="116.6" y1="734" x2="116.6" y2="744.7" stroke="#000" stroke-width="1.1"/>
<line x1="110.2" y1="680" x2="122.5" y2="680" stroke="#000" stroke-width="1.1"/>
<line x1="103.5" y1="722.6" x2="129.3" y2="722.6" stroke="#000" stroke-width="1"/>
<circle cx="119.97" cy="679.62" r="1.8" fill="#000"/>
<circle cx="112.56" cy="682.79" r="1.8" fill="#000"/>
<circle cx="116.16" cy="688.08" r="1.8" fill="#000"/>
<circle cx="116.16" cy="700.35" r="1.8" fill="#000"/>
<circle cx="112.98" cy="706.7" r="1.8" fill="#000"/>
<circle cx="119.97" cy="706.7" r="1.8" fill="#000"/>
<circle cx="105.16" cy="723.62" r="1.8" fill="#000"/>
<circle cx="112.98" cy="721.93" r="1.8" fill="#000"/>
<circle cx="120.39" cy="720.87" r="1.8" fill="#000"/>
<circle cx="127.79" cy="722.35" r="1.8" fill="#000"/>
<circle cx="112.56" cy="727.22" r="1.8" fill="#000"/>
<circle cx="119.97" cy="725.1" r="1.8" fill="#000"/>
<circle cx="116.16" cy="731.02" r="1.8" fill="#000"/>
<circle cx="115.74" cy="736.31" r="1.8" fill="#000"/>
<circle cx="112.98" cy="740.97" r="1.8" fill="#000"/>
<circle cx="112.56" cy="744.14" r="1.8" fill="#000"/>
<circle cx="119.97" cy="743.08" r="1.8" fill="#000"/>
<text x="116.6" y="759.9" font-size="9.8" text-anchor="middle" textLength="19.8" lengthAdjust="spacingAndGlyphs" stroke="#111" stroke-width="0.16">NDR</text>
<text x="79.8" y="671.2" font-size="8.2" stroke="#111" stroke-width="0.16" textLength="31.6" lengthAdjust="spacingAndGlyphs"><tspan font-style="italic">P</tspan> = .004</text>
<line x1="82.3" y1="672.8" x2="108.8" y2="672.8" stroke="#000" stroke-width="1.1"/>
<rect x="0" y="0" width="520" height="770" fill="none" stroke="#000" stroke-width="2.6"/>
<line x1="0" y1="769.2" x2="520" y2="769.2" stroke="#000" stroke-width="1.6"/>
</svg>
</body></html>
